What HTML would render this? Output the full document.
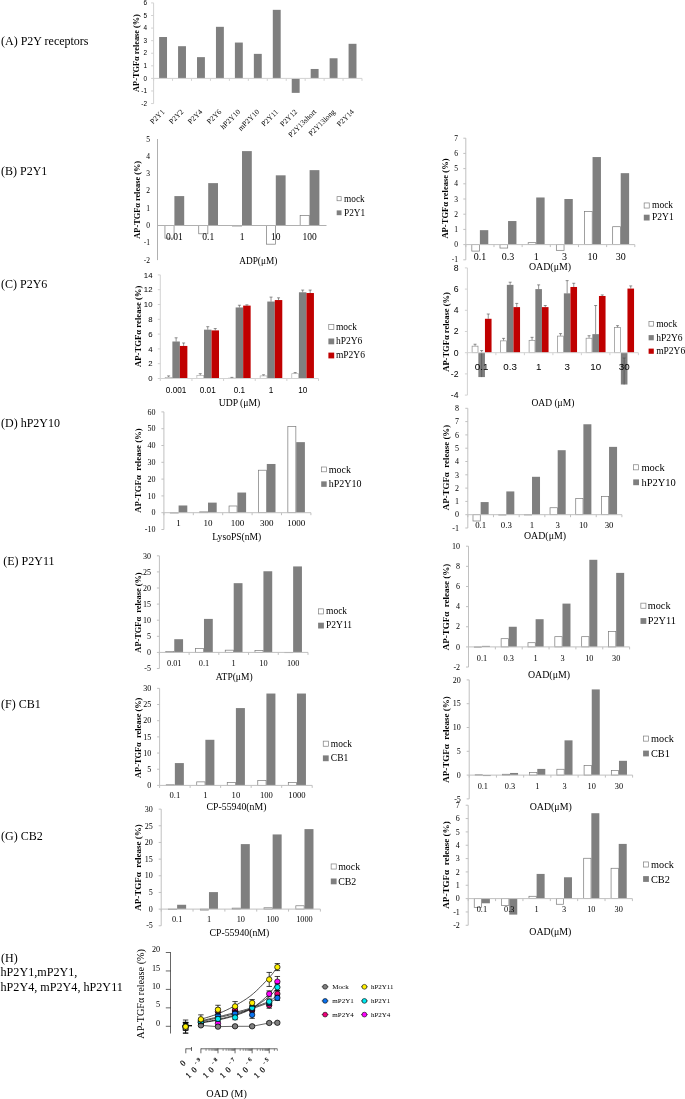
<!DOCTYPE html>
<html><head><meta charset="utf-8"><title>Figure</title>
<style>html,body{margin:0;padding:0;background:#fff;}svg{display:block;will-change:transform;}text{white-space:pre;}</style></head><body>
<svg width="685" height="1099" viewBox="0 0 685 1099">
<rect x="0" y="0" width="685" height="1099" fill="#fff"/>
<text x="1" y="45.2" font-family='"Liberation Serif", serif' font-size="12" text-anchor="start" font-weight="normal" fill="#000">(A) P2Y receptors</text>
<text x="1" y="175.2" font-family='"Liberation Serif", serif' font-size="12" text-anchor="start" font-weight="normal" fill="#000">(B) P2Y1</text>
<text x="1" y="288" font-family='"Liberation Serif", serif' font-size="12" text-anchor="start" font-weight="normal" fill="#000">(C) P2Y6</text>
<text x="1" y="427.3" font-family='"Liberation Serif", serif' font-size="12" text-anchor="start" font-weight="normal" fill="#000">(D) hP2Y10</text>
<text x="3.3" y="564.6" font-family='"Liberation Serif", serif' font-size="12" text-anchor="start" font-weight="normal" fill="#000">(E) P2Y11</text>
<text x="1" y="707.8" font-family='"Liberation Serif", serif' font-size="12" text-anchor="start" font-weight="normal" fill="#000">(F) CB1</text>
<text x="1" y="840.4" font-family='"Liberation Serif", serif' font-size="12" text-anchor="start" font-weight="normal" fill="#000">(G) CB2</text>
<text x="1" y="961.7" font-family='"Liberation Serif", serif' font-size="12" text-anchor="start" font-weight="normal" fill="#000">(H)</text>
<text x="0.5" y="976.3" font-family='"Liberation Serif", serif' font-size="12.15" text-anchor="start" font-weight="normal" fill="#000">hP2Y1,mP2Y1,</text>
<text x="0.5" y="991" font-family='"Liberation Serif", serif' font-size="12.15" text-anchor="start" font-weight="normal" fill="#000">hP2Y4, mP2Y4, hP2Y11</text>
<g>
<rect x="159.12" y="37.01" width="7.9" height="41.39" fill="#7f7f7f"/>
<rect x="178.07" y="46.2" width="7.9" height="32.2" fill="#7f7f7f"/>
<rect x="197.01" y="57.14" width="7.9" height="21.26" fill="#7f7f7f"/>
<rect x="215.96" y="26.82" width="7.9" height="51.58" fill="#7f7f7f"/>
<rect x="234.9" y="42.55" width="7.9" height="35.85" fill="#7f7f7f"/>
<rect x="253.85" y="53.87" width="7.9" height="24.53" fill="#7f7f7f"/>
<rect x="272.8" y="9.84" width="7.9" height="68.56" fill="#7f7f7f"/>
<rect x="291.74" y="78.4" width="7.9" height="14.47" fill="#7f7f7f"/>
<rect x="310.69" y="68.97" width="7.9" height="9.44" fill="#7f7f7f"/>
<rect x="329.63" y="58.27" width="7.9" height="20.13" fill="#7f7f7f"/>
<rect x="348.58" y="43.81" width="7.9" height="34.59" fill="#7f7f7f"/>
<line x1="153.6" y1="2.92" x2="153.6" y2="103.56" stroke="#d2d2d2" stroke-width="1"/>
<line x1="153.6" y1="78.4" x2="362" y2="78.4" stroke="#d2d2d2" stroke-width="1"/>
<line x1="151.1" y1="103.56" x2="153.6" y2="103.56" stroke="#d2d2d2" stroke-width="1"/>
<text x="147" y="105.74" font-family='"Liberation Sans", sans-serif' font-size="6.4" text-anchor="end" font-weight="normal" fill="#000">-2</text>
<line x1="151.1" y1="90.98" x2="153.6" y2="90.98" stroke="#d2d2d2" stroke-width="1"/>
<text x="147" y="93.16" font-family='"Liberation Sans", sans-serif' font-size="6.4" text-anchor="end" font-weight="normal" fill="#000">-1</text>
<line x1="151.1" y1="78.4" x2="153.6" y2="78.4" stroke="#d2d2d2" stroke-width="1"/>
<text x="147" y="80.58" font-family='"Liberation Sans", sans-serif' font-size="6.4" text-anchor="end" font-weight="normal" fill="#000">0</text>
<line x1="151.1" y1="65.82" x2="153.6" y2="65.82" stroke="#d2d2d2" stroke-width="1"/>
<text x="147" y="68" font-family='"Liberation Sans", sans-serif' font-size="6.4" text-anchor="end" font-weight="normal" fill="#000">1</text>
<line x1="151.1" y1="53.24" x2="153.6" y2="53.24" stroke="#d2d2d2" stroke-width="1"/>
<text x="147" y="55.42" font-family='"Liberation Sans", sans-serif' font-size="6.4" text-anchor="end" font-weight="normal" fill="#000">2</text>
<line x1="151.1" y1="40.66" x2="153.6" y2="40.66" stroke="#d2d2d2" stroke-width="1"/>
<text x="147" y="42.84" font-family='"Liberation Sans", sans-serif' font-size="6.4" text-anchor="end" font-weight="normal" fill="#000">3</text>
<line x1="151.1" y1="28.08" x2="153.6" y2="28.08" stroke="#d2d2d2" stroke-width="1"/>
<text x="147" y="30.26" font-family='"Liberation Sans", sans-serif' font-size="6.4" text-anchor="end" font-weight="normal" fill="#000">4</text>
<line x1="151.1" y1="15.5" x2="153.6" y2="15.5" stroke="#d2d2d2" stroke-width="1"/>
<text x="147" y="17.68" font-family='"Liberation Sans", sans-serif' font-size="6.4" text-anchor="end" font-weight="normal" fill="#000">5</text>
<line x1="151.1" y1="2.92" x2="153.6" y2="2.92" stroke="#d2d2d2" stroke-width="1"/>
<text x="147" y="5.1" font-family='"Liberation Sans", sans-serif' font-size="6.4" text-anchor="end" font-weight="normal" fill="#000">6</text>
<line x1="153.6" y1="78.4" x2="153.6" y2="80.9" stroke="#d2d2d2" stroke-width="1"/>
<line x1="172.55" y1="78.4" x2="172.55" y2="80.9" stroke="#d2d2d2" stroke-width="1"/>
<line x1="191.49" y1="78.4" x2="191.49" y2="80.9" stroke="#d2d2d2" stroke-width="1"/>
<line x1="210.44" y1="78.4" x2="210.44" y2="80.9" stroke="#d2d2d2" stroke-width="1"/>
<line x1="229.38" y1="78.4" x2="229.38" y2="80.9" stroke="#d2d2d2" stroke-width="1"/>
<line x1="248.33" y1="78.4" x2="248.33" y2="80.9" stroke="#d2d2d2" stroke-width="1"/>
<line x1="267.27" y1="78.4" x2="267.27" y2="80.9" stroke="#d2d2d2" stroke-width="1"/>
<line x1="286.22" y1="78.4" x2="286.22" y2="80.9" stroke="#d2d2d2" stroke-width="1"/>
<line x1="305.16" y1="78.4" x2="305.16" y2="80.9" stroke="#d2d2d2" stroke-width="1"/>
<line x1="324.11" y1="78.4" x2="324.11" y2="80.9" stroke="#d2d2d2" stroke-width="1"/>
<line x1="343.05" y1="78.4" x2="343.05" y2="80.9" stroke="#d2d2d2" stroke-width="1"/>
<line x1="362" y1="78.4" x2="362" y2="80.9" stroke="#d2d2d2" stroke-width="1"/>
<text x="165.07" y="112.3" font-family='"Liberation Serif", serif' font-size="7.5" text-anchor="end" font-weight="normal" fill="#000" transform="rotate(-45 165.07 112.3)">P2Y1</text>
<text x="184.02" y="112.3" font-family='"Liberation Serif", serif' font-size="7.5" text-anchor="end" font-weight="normal" fill="#000" transform="rotate(-45 184.02 112.3)">P2Y2</text>
<text x="202.96" y="112.3" font-family='"Liberation Serif", serif' font-size="7.5" text-anchor="end" font-weight="normal" fill="#000" transform="rotate(-45 202.96 112.3)">P2Y4</text>
<text x="221.91" y="112.3" font-family='"Liberation Serif", serif' font-size="7.5" text-anchor="end" font-weight="normal" fill="#000" transform="rotate(-45 221.91 112.3)">P2Y6</text>
<text x="240.85" y="112.3" font-family='"Liberation Serif", serif' font-size="7.5" text-anchor="end" font-weight="normal" fill="#000" transform="rotate(-45 240.85 112.3)">hP2Y10</text>
<text x="259.8" y="112.3" font-family='"Liberation Serif", serif' font-size="7.5" text-anchor="end" font-weight="normal" fill="#000" transform="rotate(-45 259.8 112.3)">mP2Y10</text>
<text x="278.75" y="112.3" font-family='"Liberation Serif", serif' font-size="7.5" text-anchor="end" font-weight="normal" fill="#000" transform="rotate(-45 278.75 112.3)">P2Y11</text>
<text x="297.69" y="112.3" font-family='"Liberation Serif", serif' font-size="7.5" text-anchor="end" font-weight="normal" fill="#000" transform="rotate(-45 297.69 112.3)">P2Y12</text>
<text x="316.64" y="112.3" font-family='"Liberation Serif", serif' font-size="7.5" text-anchor="end" font-weight="normal" fill="#000" transform="rotate(-45 316.64 112.3)">P2Y13short</text>
<text x="335.58" y="112.3" font-family='"Liberation Serif", serif' font-size="7.5" text-anchor="end" font-weight="normal" fill="#000" transform="rotate(-45 335.58 112.3)">P2Y13long</text>
<text x="354.53" y="112.3" font-family='"Liberation Serif", serif' font-size="7.5" text-anchor="end" font-weight="normal" fill="#000" transform="rotate(-45 354.53 112.3)">P2Y14</text>
<text x="139" y="53" font-family='"Liberation Serif", serif' font-size="8.3" text-anchor="middle" font-weight="bold" fill="#000" transform="rotate(-90 139 53)" xml:space="preserve">AP-TGFα release (%)</text>
</g>
<g>
<rect x="164.95" y="225.5" width="9.1" height="12.63" fill="#fff" stroke="#787878" stroke-width="0.7"/>
<rect x="174.4" y="196.09" width="9.8" height="29.41" fill="#7f7f7f"/>
<rect x="198.75" y="225.5" width="9.1" height="8.3" fill="#fff" stroke="#787878" stroke-width="0.7"/>
<rect x="208.2" y="183.12" width="9.8" height="42.39" fill="#7f7f7f"/>
<rect x="232.55" y="225.5" width="9.1" height="0.52" fill="#fff" stroke="#787878" stroke-width="0.7"/>
<rect x="242" y="151.11" width="9.8" height="74.39" fill="#7f7f7f"/>
<rect x="266.35" y="225.5" width="9.1" height="18.68" fill="#fff" stroke="#787878" stroke-width="0.7"/>
<rect x="275.8" y="175.33" width="9.8" height="50.17" fill="#7f7f7f"/>
<rect x="300.15" y="215.47" width="9.1" height="10.03" fill="#fff" stroke="#787878" stroke-width="0.7"/>
<rect x="309.6" y="170.14" width="9.8" height="55.36" fill="#7f7f7f"/>
<line x1="157.5" y1="139" x2="157.5" y2="260.1" stroke="#b0b0b0" stroke-width="1"/>
<line x1="157.5" y1="225.5" x2="326.5" y2="225.5" stroke="#b0b0b0" stroke-width="1"/>
<text x="150" y="262.65" font-family='"Liberation Serif", serif' font-size="7.5" text-anchor="end" font-weight="normal" fill="#000">-2</text>
<text x="150" y="245.35" font-family='"Liberation Serif", serif' font-size="7.5" text-anchor="end" font-weight="normal" fill="#000">-1</text>
<text x="150" y="228.05" font-family='"Liberation Serif", serif' font-size="7.5" text-anchor="end" font-weight="normal" fill="#000">0</text>
<text x="150" y="210.75" font-family='"Liberation Serif", serif' font-size="7.5" text-anchor="end" font-weight="normal" fill="#000">1</text>
<text x="150" y="193.45" font-family='"Liberation Serif", serif' font-size="7.5" text-anchor="end" font-weight="normal" fill="#000">2</text>
<text x="150" y="176.15" font-family='"Liberation Serif", serif' font-size="7.5" text-anchor="end" font-weight="normal" fill="#000">3</text>
<text x="150" y="158.85" font-family='"Liberation Serif", serif' font-size="7.5" text-anchor="end" font-weight="normal" fill="#000">4</text>
<text x="150" y="141.55" font-family='"Liberation Serif", serif' font-size="7.5" text-anchor="end" font-weight="normal" fill="#000">5</text>
<text x="174.4" y="239.7" font-family='"Liberation Serif", serif' font-size="9.5" text-anchor="middle" font-weight="normal" fill="#000">0.01</text>
<text x="208.2" y="239.7" font-family='"Liberation Serif", serif' font-size="9.5" text-anchor="middle" font-weight="normal" fill="#000">0.1</text>
<text x="242" y="239.7" font-family='"Liberation Serif", serif' font-size="9.5" text-anchor="middle" font-weight="normal" fill="#000">1</text>
<text x="275.8" y="239.7" font-family='"Liberation Serif", serif' font-size="9.5" text-anchor="middle" font-weight="normal" fill="#000">10</text>
<text x="309.6" y="239.7" font-family='"Liberation Serif", serif' font-size="9.5" text-anchor="middle" font-weight="normal" fill="#000">100</text>
<text x="140.5" y="199.8" font-family='"Liberation Serif", serif' font-size="8.3" text-anchor="middle" font-weight="bold" fill="#000" transform="rotate(-90 140.5 199.8)" xml:space="preserve">AP-TGFα release (%)</text>
<text x="258.3" y="263.5" font-family='"Liberation Serif", serif' font-size="9.3" text-anchor="middle" font-weight="normal" fill="#000">ADP(μM)</text>
<rect x="337.05" y="196.65" width="4.1" height="4.1" fill="#fff" stroke="#7f7f7f" stroke-width="0.7"/>
<text x="344" y="201.9" font-family='"Liberation Serif", serif' font-size="9.3" text-anchor="start" font-weight="normal" fill="#000">mock</text>
<rect x="336.7" y="210.4" width="4.8" height="4.8" fill="#7f7f7f"/>
<text x="344" y="216" font-family='"Liberation Serif", serif' font-size="9.3" text-anchor="start" font-weight="normal" fill="#000">P2Y1</text>
</g>
<g>
<rect x="471.83" y="244.6" width="7.7" height="6.49" fill="#fff" stroke="#787878" stroke-width="0.7"/>
<rect x="479.88" y="230.16" width="8.4" height="14.44" fill="#7f7f7f"/>
<rect x="500" y="244.6" width="7.7" height="3.45" fill="#fff" stroke="#787878" stroke-width="0.7"/>
<rect x="508.05" y="221.04" width="8.4" height="23.56" fill="#7f7f7f"/>
<rect x="528.17" y="242.67" width="7.7" height="1.93" fill="#fff" stroke="#787878" stroke-width="0.7"/>
<rect x="536.22" y="197.48" width="8.4" height="47.12" fill="#7f7f7f"/>
<rect x="556.33" y="244.6" width="7.7" height="5.73" fill="#fff" stroke="#787878" stroke-width="0.7"/>
<rect x="564.38" y="199" width="8.4" height="45.6" fill="#7f7f7f"/>
<rect x="584.5" y="211.51" width="7.7" height="33.09" fill="#fff" stroke="#787878" stroke-width="0.7"/>
<rect x="592.55" y="157.05" width="8.4" height="87.55" fill="#7f7f7f"/>
<rect x="612.67" y="226.71" width="7.7" height="17.89" fill="#fff" stroke="#787878" stroke-width="0.7"/>
<rect x="620.72" y="173.16" width="8.4" height="71.44" fill="#7f7f7f"/>
<line x1="465.8" y1="138.2" x2="465.8" y2="259.8" stroke="#c0c0c0" stroke-width="1"/>
<line x1="465.8" y1="244.6" x2="634.8" y2="244.6" stroke="#c0c0c0" stroke-width="1"/>
<line x1="463.3" y1="259.8" x2="465.8" y2="259.8" stroke="#c0c0c0" stroke-width="1"/>
<text x="458" y="262.35" font-family='"Liberation Serif", serif' font-size="7.5" text-anchor="end" font-weight="normal" fill="#000">-1</text>
<line x1="463.3" y1="244.6" x2="465.8" y2="244.6" stroke="#c0c0c0" stroke-width="1"/>
<text x="458" y="247.15" font-family='"Liberation Serif", serif' font-size="7.5" text-anchor="end" font-weight="normal" fill="#000">0</text>
<line x1="463.3" y1="229.4" x2="465.8" y2="229.4" stroke="#c0c0c0" stroke-width="1"/>
<text x="458" y="231.95" font-family='"Liberation Serif", serif' font-size="7.5" text-anchor="end" font-weight="normal" fill="#000">1</text>
<line x1="463.3" y1="214.2" x2="465.8" y2="214.2" stroke="#c0c0c0" stroke-width="1"/>
<text x="458" y="216.75" font-family='"Liberation Serif", serif' font-size="7.5" text-anchor="end" font-weight="normal" fill="#000">2</text>
<line x1="463.3" y1="199" x2="465.8" y2="199" stroke="#c0c0c0" stroke-width="1"/>
<text x="458" y="201.55" font-family='"Liberation Serif", serif' font-size="7.5" text-anchor="end" font-weight="normal" fill="#000">3</text>
<line x1="463.3" y1="183.8" x2="465.8" y2="183.8" stroke="#c0c0c0" stroke-width="1"/>
<text x="458" y="186.35" font-family='"Liberation Serif", serif' font-size="7.5" text-anchor="end" font-weight="normal" fill="#000">4</text>
<line x1="463.3" y1="168.6" x2="465.8" y2="168.6" stroke="#c0c0c0" stroke-width="1"/>
<text x="458" y="171.15" font-family='"Liberation Serif", serif' font-size="7.5" text-anchor="end" font-weight="normal" fill="#000">5</text>
<line x1="463.3" y1="153.4" x2="465.8" y2="153.4" stroke="#c0c0c0" stroke-width="1"/>
<text x="458" y="155.95" font-family='"Liberation Serif", serif' font-size="7.5" text-anchor="end" font-weight="normal" fill="#000">6</text>
<line x1="463.3" y1="138.2" x2="465.8" y2="138.2" stroke="#c0c0c0" stroke-width="1"/>
<text x="458" y="140.75" font-family='"Liberation Serif", serif' font-size="7.5" text-anchor="end" font-weight="normal" fill="#000">7</text>
<line x1="465.8" y1="244.6" x2="465.8" y2="247.1" stroke="#c0c0c0" stroke-width="1"/>
<line x1="493.97" y1="244.6" x2="493.97" y2="247.1" stroke="#c0c0c0" stroke-width="1"/>
<line x1="522.13" y1="244.6" x2="522.13" y2="247.1" stroke="#c0c0c0" stroke-width="1"/>
<line x1="550.3" y1="244.6" x2="550.3" y2="247.1" stroke="#c0c0c0" stroke-width="1"/>
<line x1="578.47" y1="244.6" x2="578.47" y2="247.1" stroke="#c0c0c0" stroke-width="1"/>
<line x1="606.63" y1="244.6" x2="606.63" y2="247.1" stroke="#c0c0c0" stroke-width="1"/>
<line x1="634.8" y1="244.6" x2="634.8" y2="247.1" stroke="#c0c0c0" stroke-width="1"/>
<text x="479.88" y="259.5" font-family='"Liberation Serif", serif' font-size="10" text-anchor="middle" font-weight="normal" fill="#000">0.1</text>
<text x="508.05" y="259.5" font-family='"Liberation Serif", serif' font-size="10" text-anchor="middle" font-weight="normal" fill="#000">0.3</text>
<text x="536.22" y="259.5" font-family='"Liberation Serif", serif' font-size="10" text-anchor="middle" font-weight="normal" fill="#000">1</text>
<text x="564.38" y="259.5" font-family='"Liberation Serif", serif' font-size="10" text-anchor="middle" font-weight="normal" fill="#000">3</text>
<text x="592.55" y="259.5" font-family='"Liberation Serif", serif' font-size="10" text-anchor="middle" font-weight="normal" fill="#000">10</text>
<text x="620.72" y="259.5" font-family='"Liberation Serif", serif' font-size="10" text-anchor="middle" font-weight="normal" fill="#000">30</text>
<text x="447.9" y="198.5" font-family='"Liberation Serif", serif' font-size="8.55" text-anchor="middle" font-weight="bold" fill="#000" transform="rotate(-90 447.9 198.5)" xml:space="preserve">AP-TGFα release (%)</text>
<text x="550" y="269.5" font-family='"Liberation Serif", serif' font-size="9.9" text-anchor="middle" font-weight="normal" fill="#000">OAD(μM)</text>
<rect x="644.15" y="202.95" width="5.1" height="5.1" fill="#fff" stroke="#7f7f7f" stroke-width="0.7"/>
<text x="652" y="208.35" font-family='"Liberation Serif", serif' font-size="9.5" text-anchor="start" font-weight="normal" fill="#000">mock</text>
<rect x="643.8" y="214.7" width="5.8" height="5.8" fill="#7f7f7f"/>
<text x="652" y="220.45" font-family='"Liberation Serif", serif' font-size="9.5" text-anchor="start" font-weight="normal" fill="#000">P2Y1</text>
</g>
<g>
<rect x="165.22" y="377.37" width="6.8" height="1.13" fill="#fff" stroke="#b0b0b0" stroke-width="0.7"/>
<line x1="168.62" y1="377.02" x2="168.62" y2="375.91" stroke="#4a4a4a" stroke-width="0.6"/>
<line x1="167.12" y1="375.91" x2="170.12" y2="375.91" stroke="#4a4a4a" stroke-width="0.6"/>
<rect x="172.37" y="341.5" width="7.5" height="37" fill="#7f7f7f"/>
<line x1="176.12" y1="341.5" x2="176.12" y2="337.8" stroke="#4a4a4a" stroke-width="0.6"/>
<line x1="174.62" y1="337.8" x2="177.62" y2="337.8" stroke="#4a4a4a" stroke-width="0.6"/>
<rect x="179.87" y="345.94" width="7.5" height="32.56" fill="#c00000"/>
<line x1="183.62" y1="345.94" x2="183.62" y2="342.98" stroke="#4a4a4a" stroke-width="0.6"/>
<line x1="182.12" y1="342.98" x2="185.12" y2="342.98" stroke="#4a4a4a" stroke-width="0.6"/>
<rect x="196.86" y="375.52" width="6.8" height="2.98" fill="#fff" stroke="#b0b0b0" stroke-width="0.7"/>
<line x1="200.26" y1="375.17" x2="200.26" y2="373.69" stroke="#4a4a4a" stroke-width="0.6"/>
<line x1="198.76" y1="373.69" x2="201.76" y2="373.69" stroke="#4a4a4a" stroke-width="0.6"/>
<rect x="204.01" y="329.66" width="7.5" height="48.84" fill="#7f7f7f"/>
<line x1="207.76" y1="329.66" x2="207.76" y2="326.7" stroke="#4a4a4a" stroke-width="0.6"/>
<line x1="206.26" y1="326.7" x2="209.26" y2="326.7" stroke="#4a4a4a" stroke-width="0.6"/>
<rect x="211.51" y="330.4" width="7.5" height="48.1" fill="#c00000"/>
<line x1="215.26" y1="330.4" x2="215.26" y2="328.55" stroke="#4a4a4a" stroke-width="0.6"/>
<line x1="213.76" y1="328.55" x2="216.76" y2="328.55" stroke="#4a4a4a" stroke-width="0.6"/>
<rect x="228.5" y="378.11" width="6.8" height="0.39" fill="#fff" stroke="#b0b0b0" stroke-width="0.7"/>
<line x1="231.9" y1="377.76" x2="231.9" y2="377.39" stroke="#4a4a4a" stroke-width="0.6"/>
<line x1="230.4" y1="377.39" x2="233.4" y2="377.39" stroke="#4a4a4a" stroke-width="0.6"/>
<rect x="235.65" y="307.46" width="7.5" height="71.04" fill="#7f7f7f"/>
<line x1="239.4" y1="307.46" x2="239.4" y2="305.24" stroke="#4a4a4a" stroke-width="0.6"/>
<line x1="237.9" y1="305.24" x2="240.9" y2="305.24" stroke="#4a4a4a" stroke-width="0.6"/>
<rect x="243.15" y="305.61" width="7.5" height="72.89" fill="#c00000"/>
<line x1="246.9" y1="305.61" x2="246.9" y2="304.87" stroke="#4a4a4a" stroke-width="0.6"/>
<line x1="245.4" y1="304.87" x2="248.4" y2="304.87" stroke="#4a4a4a" stroke-width="0.6"/>
<rect x="260.14" y="375.89" width="6.8" height="2.61" fill="#fff" stroke="#b0b0b0" stroke-width="0.7"/>
<line x1="263.54" y1="375.54" x2="263.54" y2="374.8" stroke="#4a4a4a" stroke-width="0.6"/>
<line x1="262.04" y1="374.8" x2="265.04" y2="374.8" stroke="#4a4a4a" stroke-width="0.6"/>
<rect x="267.29" y="301.54" width="7.5" height="76.96" fill="#7f7f7f"/>
<line x1="271.04" y1="301.54" x2="271.04" y2="297.1" stroke="#4a4a4a" stroke-width="0.6"/>
<line x1="269.54" y1="297.1" x2="272.54" y2="297.1" stroke="#4a4a4a" stroke-width="0.6"/>
<rect x="274.79" y="300.06" width="7.5" height="78.44" fill="#c00000"/>
<line x1="278.54" y1="300.06" x2="278.54" y2="297.84" stroke="#4a4a4a" stroke-width="0.6"/>
<line x1="277.04" y1="297.84" x2="280.04" y2="297.84" stroke="#4a4a4a" stroke-width="0.6"/>
<rect x="291.78" y="373.67" width="6.8" height="4.83" fill="#fff" stroke="#b0b0b0" stroke-width="0.7"/>
<line x1="295.18" y1="373.32" x2="295.18" y2="372.58" stroke="#4a4a4a" stroke-width="0.6"/>
<line x1="293.68" y1="372.58" x2="296.68" y2="372.58" stroke="#4a4a4a" stroke-width="0.6"/>
<rect x="298.93" y="292.29" width="7.5" height="86.21" fill="#7f7f7f"/>
<line x1="302.68" y1="292.29" x2="302.68" y2="290.07" stroke="#4a4a4a" stroke-width="0.6"/>
<line x1="301.18" y1="290.07" x2="304.18" y2="290.07" stroke="#4a4a4a" stroke-width="0.6"/>
<rect x="306.43" y="293.03" width="7.5" height="85.47" fill="#c00000"/>
<line x1="310.18" y1="293.03" x2="310.18" y2="290.07" stroke="#4a4a4a" stroke-width="0.6"/>
<line x1="308.68" y1="290.07" x2="311.68" y2="290.07" stroke="#4a4a4a" stroke-width="0.6"/>
<line x1="160.3" y1="274.9" x2="160.3" y2="378.5" stroke="#d2d2d2" stroke-width="1"/>
<line x1="160.3" y1="378.5" x2="318.5" y2="378.5" stroke="#d2d2d2" stroke-width="1"/>
<line x1="157.8" y1="378.5" x2="160.3" y2="378.5" stroke="#d2d2d2" stroke-width="1"/>
<text x="152.5" y="381.15" font-family='"Liberation Sans", sans-serif' font-size="7.8" text-anchor="end" font-weight="normal" fill="#000">0</text>
<line x1="157.8" y1="363.7" x2="160.3" y2="363.7" stroke="#d2d2d2" stroke-width="1"/>
<text x="152.5" y="366.35" font-family='"Liberation Sans", sans-serif' font-size="7.8" text-anchor="end" font-weight="normal" fill="#000">2</text>
<line x1="157.8" y1="348.9" x2="160.3" y2="348.9" stroke="#d2d2d2" stroke-width="1"/>
<text x="152.5" y="351.55" font-family='"Liberation Sans", sans-serif' font-size="7.8" text-anchor="end" font-weight="normal" fill="#000">4</text>
<line x1="157.8" y1="334.1" x2="160.3" y2="334.1" stroke="#d2d2d2" stroke-width="1"/>
<text x="152.5" y="336.75" font-family='"Liberation Sans", sans-serif' font-size="7.8" text-anchor="end" font-weight="normal" fill="#000">6</text>
<line x1="157.8" y1="319.3" x2="160.3" y2="319.3" stroke="#d2d2d2" stroke-width="1"/>
<text x="152.5" y="321.95" font-family='"Liberation Sans", sans-serif' font-size="7.8" text-anchor="end" font-weight="normal" fill="#000">8</text>
<line x1="157.8" y1="304.5" x2="160.3" y2="304.5" stroke="#d2d2d2" stroke-width="1"/>
<text x="152.5" y="307.15" font-family='"Liberation Sans", sans-serif' font-size="7.8" text-anchor="end" font-weight="normal" fill="#000">10</text>
<line x1="157.8" y1="289.7" x2="160.3" y2="289.7" stroke="#d2d2d2" stroke-width="1"/>
<text x="152.5" y="292.35" font-family='"Liberation Sans", sans-serif' font-size="7.8" text-anchor="end" font-weight="normal" fill="#000">12</text>
<line x1="157.8" y1="274.9" x2="160.3" y2="274.9" stroke="#d2d2d2" stroke-width="1"/>
<text x="152.5" y="277.55" font-family='"Liberation Sans", sans-serif' font-size="7.8" text-anchor="end" font-weight="normal" fill="#000">14</text>
<line x1="160.3" y1="378.5" x2="160.3" y2="381" stroke="#d2d2d2" stroke-width="1"/>
<line x1="191.94" y1="378.5" x2="191.94" y2="381" stroke="#d2d2d2" stroke-width="1"/>
<line x1="223.58" y1="378.5" x2="223.58" y2="381" stroke="#d2d2d2" stroke-width="1"/>
<line x1="255.22" y1="378.5" x2="255.22" y2="381" stroke="#d2d2d2" stroke-width="1"/>
<line x1="286.86" y1="378.5" x2="286.86" y2="381" stroke="#d2d2d2" stroke-width="1"/>
<line x1="318.5" y1="378.5" x2="318.5" y2="381" stroke="#d2d2d2" stroke-width="1"/>
<text x="176.12" y="392.7" font-family='"Liberation Sans", sans-serif' font-size="8.2" text-anchor="middle" font-weight="normal" fill="#000">0.001</text>
<text x="207.76" y="392.7" font-family='"Liberation Sans", sans-serif' font-size="8.2" text-anchor="middle" font-weight="normal" fill="#000">0.01</text>
<text x="239.4" y="392.7" font-family='"Liberation Sans", sans-serif' font-size="8.2" text-anchor="middle" font-weight="normal" fill="#000">0.1</text>
<text x="271.04" y="392.7" font-family='"Liberation Sans", sans-serif' font-size="8.2" text-anchor="middle" font-weight="normal" fill="#000">1</text>
<text x="302.68" y="392.7" font-family='"Liberation Sans", sans-serif' font-size="8.2" text-anchor="middle" font-weight="normal" fill="#000">10</text>
<text x="141" y="326.3" font-family='"Liberation Serif", serif' font-size="8.7" text-anchor="middle" font-weight="bold" fill="#000" transform="rotate(-90 141 326.3)" xml:space="preserve">AP-TGFα release (%)</text>
<text x="239.5" y="405.8" font-family='"Liberation Serif", serif' font-size="9.7" text-anchor="middle" font-weight="normal" fill="#000">UDP (μM)</text>
<rect x="328.75" y="324.35" width="5.1" height="5.1" fill="#fff" stroke="#7f7f7f" stroke-width="0.7"/>
<text x="335.9" y="329.75" font-family='"Liberation Serif", serif' font-size="9.5" text-anchor="start" font-weight="normal" fill="#000">mock</text>
<rect x="328.4" y="338.5" width="5.8" height="5.8" fill="#7f7f7f"/>
<text x="335.9" y="344.25" font-family='"Liberation Serif", serif' font-size="9.5" text-anchor="start" font-weight="normal" fill="#000">hP2Y6</text>
<rect x="328.4" y="352.6" width="5.8" height="5.8" fill="#c00000"/>
<text x="335.9" y="358.35" font-family='"Liberation Serif", serif' font-size="9.5" text-anchor="start" font-weight="normal" fill="#000">mP2Y6</text>
</g>
<g>
<rect x="472.1" y="346.16" width="5.9" height="6.54" fill="#fff" stroke="#8c8c8c" stroke-width="0.7"/>
<line x1="475.05" y1="345.81" x2="475.05" y2="344.22" stroke="#4a4a4a" stroke-width="0.6"/>
<line x1="473.55" y1="344.22" x2="476.55" y2="344.22" stroke="#4a4a4a" stroke-width="0.6"/>
<rect x="478.35" y="352.7" width="6.6" height="24.38" fill="#7f7f7f"/>
<line x1="481.65" y1="377.08" x2="481.65" y2="350.58" stroke="#4a4a4a" stroke-width="0.6"/>
<line x1="480.15" y1="350.58" x2="483.15" y2="350.58" stroke="#4a4a4a" stroke-width="0.6"/>
<rect x="484.95" y="318.78" width="6.6" height="33.92" fill="#c00000"/>
<line x1="488.25" y1="318.78" x2="488.25" y2="314.01" stroke="#4a4a4a" stroke-width="0.6"/>
<line x1="486.75" y1="314.01" x2="489.75" y2="314.01" stroke="#4a4a4a" stroke-width="0.6"/>
<rect x="500.6" y="340.86" width="5.9" height="11.84" fill="#fff" stroke="#8c8c8c" stroke-width="0.7"/>
<line x1="503.55" y1="340.51" x2="503.55" y2="338.39" stroke="#4a4a4a" stroke-width="0.6"/>
<line x1="502.05" y1="338.39" x2="505.05" y2="338.39" stroke="#4a4a4a" stroke-width="0.6"/>
<rect x="506.85" y="284.86" width="6.6" height="67.84" fill="#7f7f7f"/>
<line x1="510.15" y1="284.86" x2="510.15" y2="282.21" stroke="#4a4a4a" stroke-width="0.6"/>
<line x1="508.65" y1="282.21" x2="511.65" y2="282.21" stroke="#4a4a4a" stroke-width="0.6"/>
<rect x="513.45" y="307.12" width="6.6" height="45.58" fill="#c00000"/>
<line x1="516.75" y1="307.12" x2="516.75" y2="303.41" stroke="#4a4a4a" stroke-width="0.6"/>
<line x1="515.25" y1="303.41" x2="518.25" y2="303.41" stroke="#4a4a4a" stroke-width="0.6"/>
<rect x="529.1" y="340.33" width="5.9" height="12.37" fill="#fff" stroke="#8c8c8c" stroke-width="0.7"/>
<line x1="532.05" y1="339.98" x2="532.05" y2="337.33" stroke="#4a4a4a" stroke-width="0.6"/>
<line x1="530.55" y1="337.33" x2="533.55" y2="337.33" stroke="#4a4a4a" stroke-width="0.6"/>
<rect x="535.35" y="289.1" width="6.6" height="63.6" fill="#7f7f7f"/>
<line x1="538.65" y1="289.1" x2="538.65" y2="284.86" stroke="#4a4a4a" stroke-width="0.6"/>
<line x1="537.15" y1="284.86" x2="540.15" y2="284.86" stroke="#4a4a4a" stroke-width="0.6"/>
<rect x="541.95" y="307.12" width="6.6" height="45.58" fill="#c00000"/>
<line x1="545.25" y1="307.12" x2="545.25" y2="305.53" stroke="#4a4a4a" stroke-width="0.6"/>
<line x1="543.75" y1="305.53" x2="546.75" y2="305.53" stroke="#4a4a4a" stroke-width="0.6"/>
<rect x="557.6" y="336.09" width="5.9" height="16.61" fill="#fff" stroke="#8c8c8c" stroke-width="0.7"/>
<line x1="560.55" y1="335.74" x2="560.55" y2="333.62" stroke="#4a4a4a" stroke-width="0.6"/>
<line x1="559.05" y1="333.62" x2="562.05" y2="333.62" stroke="#4a4a4a" stroke-width="0.6"/>
<rect x="563.85" y="293.34" width="6.6" height="59.36" fill="#7f7f7f"/>
<line x1="567.15" y1="293.34" x2="567.15" y2="280.62" stroke="#4a4a4a" stroke-width="0.6"/>
<line x1="565.65" y1="280.62" x2="568.65" y2="280.62" stroke="#4a4a4a" stroke-width="0.6"/>
<rect x="570.45" y="286.98" width="6.6" height="65.72" fill="#c00000"/>
<line x1="573.75" y1="286.98" x2="573.75" y2="283.27" stroke="#4a4a4a" stroke-width="0.6"/>
<line x1="572.25" y1="283.27" x2="575.25" y2="283.27" stroke="#4a4a4a" stroke-width="0.6"/>
<rect x="586.1" y="338.21" width="5.9" height="14.49" fill="#fff" stroke="#8c8c8c" stroke-width="0.7"/>
<line x1="589.05" y1="337.86" x2="589.05" y2="335.74" stroke="#4a4a4a" stroke-width="0.6"/>
<line x1="587.55" y1="335.74" x2="590.55" y2="335.74" stroke="#4a4a4a" stroke-width="0.6"/>
<rect x="592.35" y="334.15" width="6.6" height="18.55" fill="#7f7f7f"/>
<line x1="595.65" y1="334.15" x2="595.65" y2="305.53" stroke="#4a4a4a" stroke-width="0.6"/>
<line x1="594.15" y1="305.53" x2="597.15" y2="305.53" stroke="#4a4a4a" stroke-width="0.6"/>
<rect x="598.95" y="295.99" width="6.6" height="56.71" fill="#c00000"/>
<line x1="602.25" y1="295.99" x2="602.25" y2="294.93" stroke="#4a4a4a" stroke-width="0.6"/>
<line x1="600.75" y1="294.93" x2="603.75" y2="294.93" stroke="#4a4a4a" stroke-width="0.6"/>
<rect x="614.6" y="327.61" width="5.9" height="25.09" fill="#fff" stroke="#8c8c8c" stroke-width="0.7"/>
<line x1="617.55" y1="327.26" x2="617.55" y2="325.67" stroke="#4a4a4a" stroke-width="0.6"/>
<line x1="616.05" y1="325.67" x2="619.05" y2="325.67" stroke="#4a4a4a" stroke-width="0.6"/>
<rect x="620.85" y="352.7" width="6.6" height="31.8" fill="#7f7f7f"/>
<line x1="624.15" y1="384.5" x2="624.15" y2="358" stroke="#4a4a4a" stroke-width="0.6"/>
<line x1="622.65" y1="358" x2="625.65" y2="358" stroke="#4a4a4a" stroke-width="0.6"/>
<rect x="627.45" y="288.57" width="6.6" height="64.13" fill="#c00000"/>
<line x1="630.75" y1="288.57" x2="630.75" y2="285.92" stroke="#4a4a4a" stroke-width="0.6"/>
<line x1="629.25" y1="285.92" x2="632.25" y2="285.92" stroke="#4a4a4a" stroke-width="0.6"/>
<line x1="467.4" y1="267.9" x2="467.4" y2="395.1" stroke="#d2d2d2" stroke-width="1"/>
<line x1="467.4" y1="352.7" x2="638.4" y2="352.7" stroke="#d2d2d2" stroke-width="1"/>
<line x1="464.9" y1="395.1" x2="467.4" y2="395.1" stroke="#d2d2d2" stroke-width="1"/>
<text x="458.6" y="398.06" font-family='"Liberation Sans", sans-serif' font-size="8.7" text-anchor="end" font-weight="normal" fill="#000">-4</text>
<line x1="464.9" y1="373.9" x2="467.4" y2="373.9" stroke="#d2d2d2" stroke-width="1"/>
<text x="458.6" y="376.86" font-family='"Liberation Sans", sans-serif' font-size="8.7" text-anchor="end" font-weight="normal" fill="#000">-2</text>
<line x1="464.9" y1="352.7" x2="467.4" y2="352.7" stroke="#d2d2d2" stroke-width="1"/>
<text x="458.6" y="355.66" font-family='"Liberation Sans", sans-serif' font-size="8.7" text-anchor="end" font-weight="normal" fill="#000">0</text>
<line x1="464.9" y1="331.5" x2="467.4" y2="331.5" stroke="#d2d2d2" stroke-width="1"/>
<text x="458.6" y="334.46" font-family='"Liberation Sans", sans-serif' font-size="8.7" text-anchor="end" font-weight="normal" fill="#000">2</text>
<line x1="464.9" y1="310.3" x2="467.4" y2="310.3" stroke="#d2d2d2" stroke-width="1"/>
<text x="458.6" y="313.26" font-family='"Liberation Sans", sans-serif' font-size="8.7" text-anchor="end" font-weight="normal" fill="#000">4</text>
<line x1="464.9" y1="289.1" x2="467.4" y2="289.1" stroke="#d2d2d2" stroke-width="1"/>
<text x="458.6" y="292.06" font-family='"Liberation Sans", sans-serif' font-size="8.7" text-anchor="end" font-weight="normal" fill="#000">6</text>
<line x1="464.9" y1="267.9" x2="467.4" y2="267.9" stroke="#d2d2d2" stroke-width="1"/>
<text x="458.6" y="270.86" font-family='"Liberation Sans", sans-serif' font-size="8.7" text-anchor="end" font-weight="normal" fill="#000">8</text>
<line x1="467.4" y1="352.7" x2="467.4" y2="355.2" stroke="#d2d2d2" stroke-width="1"/>
<line x1="495.9" y1="352.7" x2="495.9" y2="355.2" stroke="#d2d2d2" stroke-width="1"/>
<line x1="524.4" y1="352.7" x2="524.4" y2="355.2" stroke="#d2d2d2" stroke-width="1"/>
<line x1="552.9" y1="352.7" x2="552.9" y2="355.2" stroke="#d2d2d2" stroke-width="1"/>
<line x1="581.4" y1="352.7" x2="581.4" y2="355.2" stroke="#d2d2d2" stroke-width="1"/>
<line x1="609.9" y1="352.7" x2="609.9" y2="355.2" stroke="#d2d2d2" stroke-width="1"/>
<line x1="638.4" y1="352.7" x2="638.4" y2="355.2" stroke="#d2d2d2" stroke-width="1"/>
<text x="481.65" y="370.2" font-family='"Liberation Sans", sans-serif' font-size="9.8" text-anchor="middle" font-weight="normal" fill="#000">0.1</text>
<text x="510.15" y="370.2" font-family='"Liberation Sans", sans-serif' font-size="9.8" text-anchor="middle" font-weight="normal" fill="#000">0.3</text>
<text x="538.65" y="370.2" font-family='"Liberation Sans", sans-serif' font-size="9.8" text-anchor="middle" font-weight="normal" fill="#000">1</text>
<text x="567.15" y="370.2" font-family='"Liberation Sans", sans-serif' font-size="9.8" text-anchor="middle" font-weight="normal" fill="#000">3</text>
<text x="595.65" y="370.2" font-family='"Liberation Sans", sans-serif' font-size="9.8" text-anchor="middle" font-weight="normal" fill="#000">10</text>
<text x="624.15" y="370.2" font-family='"Liberation Sans", sans-serif' font-size="9.8" text-anchor="middle" font-weight="normal" fill="#000">30</text>
<text x="448.7" y="331.9" font-family='"Liberation Serif", serif' font-size="8.5" text-anchor="middle" font-weight="bold" fill="#000" transform="rotate(-90 448.7 331.9)" xml:space="preserve">AP-TGFα release (%)</text>
<text x="552.9" y="405.5" font-family='"Liberation Serif", serif' font-size="9.5" text-anchor="middle" font-weight="normal" fill="#000">OAD (μM)</text>
<rect x="648.95" y="321.65" width="4.5" height="4.5" fill="#fff" stroke="#7f7f7f" stroke-width="0.7"/>
<text x="656.2" y="326.75" font-family='"Liberation Serif", serif' font-size="9.5" text-anchor="start" font-weight="normal" fill="#000">mock</text>
<rect x="648.6" y="335.1" width="5.2" height="5.2" fill="#7f7f7f"/>
<text x="656.2" y="340.55" font-family='"Liberation Serif", serif' font-size="9.5" text-anchor="start" font-weight="normal" fill="#000">hP2Y6</text>
<rect x="648.6" y="348.6" width="5.2" height="5.2" fill="#c00000"/>
<text x="656.2" y="354.05" font-family='"Liberation Serif", serif' font-size="9.5" text-anchor="start" font-weight="normal" fill="#000">mP2Y6</text>
</g>
<g>
<rect x="170.25" y="512.7" width="8" height="0.3" fill="#fff" stroke="#787878" stroke-width="0.7"/>
<rect x="178.6" y="505.48" width="8.7" height="7.22" fill="#7f7f7f"/>
<rect x="199.65" y="511.87" width="8" height="0.83" fill="#fff" stroke="#787878" stroke-width="0.7"/>
<rect x="208" y="502.62" width="8.7" height="10.08" fill="#7f7f7f"/>
<rect x="229.05" y="505.99" width="8" height="6.71" fill="#fff" stroke="#787878" stroke-width="0.7"/>
<rect x="237.4" y="492.54" width="8.7" height="20.16" fill="#7f7f7f"/>
<rect x="258.45" y="470.21" width="8" height="42.49" fill="#fff" stroke="#787878" stroke-width="0.7"/>
<rect x="266.8" y="463.98" width="8.7" height="48.72" fill="#7f7f7f"/>
<rect x="287.85" y="426.53" width="8" height="86.17" fill="#fff" stroke="#787878" stroke-width="0.7"/>
<rect x="296.2" y="442.14" width="8.7" height="70.56" fill="#7f7f7f"/>
<line x1="163.9" y1="411.9" x2="163.9" y2="529.5" stroke="#c0c0c0" stroke-width="1"/>
<line x1="163.9" y1="512.7" x2="310.9" y2="512.7" stroke="#c0c0c0" stroke-width="1"/>
<line x1="161.4" y1="529.5" x2="163.9" y2="529.5" stroke="#c0c0c0" stroke-width="1"/>
<text x="155.5" y="532.22" font-family='"Liberation Serif", serif' font-size="8" text-anchor="end" font-weight="normal" fill="#000">-10</text>
<line x1="161.4" y1="512.7" x2="163.9" y2="512.7" stroke="#c0c0c0" stroke-width="1"/>
<text x="155.5" y="515.42" font-family='"Liberation Serif", serif' font-size="8" text-anchor="end" font-weight="normal" fill="#000">0</text>
<line x1="161.4" y1="495.9" x2="163.9" y2="495.9" stroke="#c0c0c0" stroke-width="1"/>
<text x="155.5" y="498.62" font-family='"Liberation Serif", serif' font-size="8" text-anchor="end" font-weight="normal" fill="#000">10</text>
<line x1="161.4" y1="479.1" x2="163.9" y2="479.1" stroke="#c0c0c0" stroke-width="1"/>
<text x="155.5" y="481.82" font-family='"Liberation Serif", serif' font-size="8" text-anchor="end" font-weight="normal" fill="#000">20</text>
<line x1="161.4" y1="462.3" x2="163.9" y2="462.3" stroke="#c0c0c0" stroke-width="1"/>
<text x="155.5" y="465.02" font-family='"Liberation Serif", serif' font-size="8" text-anchor="end" font-weight="normal" fill="#000">30</text>
<line x1="161.4" y1="445.5" x2="163.9" y2="445.5" stroke="#c0c0c0" stroke-width="1"/>
<text x="155.5" y="448.22" font-family='"Liberation Serif", serif' font-size="8" text-anchor="end" font-weight="normal" fill="#000">40</text>
<line x1="161.4" y1="428.7" x2="163.9" y2="428.7" stroke="#c0c0c0" stroke-width="1"/>
<text x="155.5" y="431.42" font-family='"Liberation Serif", serif' font-size="8" text-anchor="end" font-weight="normal" fill="#000">50</text>
<line x1="161.4" y1="411.9" x2="163.9" y2="411.9" stroke="#c0c0c0" stroke-width="1"/>
<text x="155.5" y="414.62" font-family='"Liberation Serif", serif' font-size="8" text-anchor="end" font-weight="normal" fill="#000">60</text>
<line x1="163.9" y1="512.7" x2="163.9" y2="515.2" stroke="#c0c0c0" stroke-width="1"/>
<line x1="193.3" y1="512.7" x2="193.3" y2="515.2" stroke="#c0c0c0" stroke-width="1"/>
<line x1="222.7" y1="512.7" x2="222.7" y2="515.2" stroke="#c0c0c0" stroke-width="1"/>
<line x1="252.1" y1="512.7" x2="252.1" y2="515.2" stroke="#c0c0c0" stroke-width="1"/>
<line x1="281.5" y1="512.7" x2="281.5" y2="515.2" stroke="#c0c0c0" stroke-width="1"/>
<line x1="310.9" y1="512.7" x2="310.9" y2="515.2" stroke="#c0c0c0" stroke-width="1"/>
<text x="178.6" y="526.3" font-family='"Liberation Serif", serif' font-size="9" text-anchor="middle" font-weight="normal" fill="#000">1</text>
<text x="208" y="526.3" font-family='"Liberation Serif", serif' font-size="9" text-anchor="middle" font-weight="normal" fill="#000">10</text>
<text x="237.4" y="526.3" font-family='"Liberation Serif", serif' font-size="9" text-anchor="middle" font-weight="normal" fill="#000">100</text>
<text x="266.8" y="526.3" font-family='"Liberation Serif", serif' font-size="9" text-anchor="middle" font-weight="normal" fill="#000">300</text>
<text x="296.2" y="526.3" font-family='"Liberation Serif", serif' font-size="9" text-anchor="middle" font-weight="normal" fill="#000">1000</text>
<text x="141.2" y="470.5" font-family='"Liberation Serif", serif' font-size="8.8" text-anchor="middle" font-weight="bold" fill="#000" transform="rotate(-90 141.2 470.5)" xml:space="preserve">AP-TGFα  release (%)</text>
<text x="236.8" y="539.6" font-family='"Liberation Serif", serif' font-size="9.6" text-anchor="middle" font-weight="normal" fill="#000">LysoPS(nM)</text>
<rect x="321.55" y="467" width="4.8" height="4.8" fill="#fff" stroke="#7f7f7f" stroke-width="0.7"/>
<text x="328.8" y="472.7" font-family='"Liberation Serif", serif' font-size="10" text-anchor="start" font-weight="normal" fill="#000">mock</text>
<rect x="321.2" y="481.35" width="5.5" height="5.5" fill="#7f7f7f"/>
<text x="328.8" y="487.4" font-family='"Liberation Serif", serif' font-size="10" text-anchor="start" font-weight="normal" fill="#000">hP2Y10</text>
</g>
<g>
<rect x="472.99" y="514.7" width="7.3" height="6.3" fill="#fff" stroke="#787878" stroke-width="0.7"/>
<rect x="480.64" y="502.07" width="8" height="12.63" fill="#7f7f7f"/>
<rect x="498.68" y="514.7" width="7.3" height="0.32" fill="#fff" stroke="#787878" stroke-width="0.7"/>
<rect x="506.32" y="491.43" width="8" height="23.28" fill="#7f7f7f"/>
<rect x="524.36" y="514.65" width="7.3" height="0.3" fill="#fff" stroke="#787878" stroke-width="0.7"/>
<rect x="532.01" y="476.8" width="8" height="37.91" fill="#7f7f7f"/>
<rect x="550.04" y="507.74" width="7.3" height="6.97" fill="#fff" stroke="#787878" stroke-width="0.7"/>
<rect x="557.69" y="450.2" width="8" height="64.5" fill="#7f7f7f"/>
<rect x="575.73" y="498.43" width="7.3" height="16.27" fill="#fff" stroke="#787878" stroke-width="0.7"/>
<rect x="583.38" y="424.26" width="8" height="90.44" fill="#7f7f7f"/>
<rect x="601.41" y="496.43" width="7.3" height="18.27" fill="#fff" stroke="#787878" stroke-width="0.7"/>
<rect x="609.06" y="446.87" width="8" height="67.83" fill="#7f7f7f"/>
<line x1="467.8" y1="408.3" x2="467.8" y2="528" stroke="#c0c0c0" stroke-width="1"/>
<line x1="467.8" y1="514.7" x2="621.9" y2="514.7" stroke="#c0c0c0" stroke-width="1"/>
<line x1="465.3" y1="528" x2="467.8" y2="528" stroke="#c0c0c0" stroke-width="1"/>
<text x="459" y="530.72" font-family='"Liberation Serif", serif' font-size="8" text-anchor="end" font-weight="normal" fill="#000">-1</text>
<line x1="465.3" y1="514.7" x2="467.8" y2="514.7" stroke="#c0c0c0" stroke-width="1"/>
<text x="459" y="517.42" font-family='"Liberation Serif", serif' font-size="8" text-anchor="end" font-weight="normal" fill="#000">0</text>
<line x1="465.3" y1="501.4" x2="467.8" y2="501.4" stroke="#c0c0c0" stroke-width="1"/>
<text x="459" y="504.12" font-family='"Liberation Serif", serif' font-size="8" text-anchor="end" font-weight="normal" fill="#000">1</text>
<line x1="465.3" y1="488.1" x2="467.8" y2="488.1" stroke="#c0c0c0" stroke-width="1"/>
<text x="459" y="490.82" font-family='"Liberation Serif", serif' font-size="8" text-anchor="end" font-weight="normal" fill="#000">2</text>
<line x1="465.3" y1="474.8" x2="467.8" y2="474.8" stroke="#c0c0c0" stroke-width="1"/>
<text x="459" y="477.52" font-family='"Liberation Serif", serif' font-size="8" text-anchor="end" font-weight="normal" fill="#000">3</text>
<line x1="465.3" y1="461.5" x2="467.8" y2="461.5" stroke="#c0c0c0" stroke-width="1"/>
<text x="459" y="464.22" font-family='"Liberation Serif", serif' font-size="8" text-anchor="end" font-weight="normal" fill="#000">4</text>
<line x1="465.3" y1="448.2" x2="467.8" y2="448.2" stroke="#c0c0c0" stroke-width="1"/>
<text x="459" y="450.92" font-family='"Liberation Serif", serif' font-size="8" text-anchor="end" font-weight="normal" fill="#000">5</text>
<line x1="465.3" y1="434.9" x2="467.8" y2="434.9" stroke="#c0c0c0" stroke-width="1"/>
<text x="459" y="437.62" font-family='"Liberation Serif", serif' font-size="8" text-anchor="end" font-weight="normal" fill="#000">6</text>
<line x1="465.3" y1="421.6" x2="467.8" y2="421.6" stroke="#c0c0c0" stroke-width="1"/>
<text x="459" y="424.32" font-family='"Liberation Serif", serif' font-size="8" text-anchor="end" font-weight="normal" fill="#000">7</text>
<line x1="465.3" y1="408.3" x2="467.8" y2="408.3" stroke="#c0c0c0" stroke-width="1"/>
<text x="459" y="411.02" font-family='"Liberation Serif", serif' font-size="8" text-anchor="end" font-weight="normal" fill="#000">8</text>
<line x1="467.8" y1="514.7" x2="467.8" y2="517.2" stroke="#c0c0c0" stroke-width="1"/>
<line x1="493.48" y1="514.7" x2="493.48" y2="517.2" stroke="#c0c0c0" stroke-width="1"/>
<line x1="519.17" y1="514.7" x2="519.17" y2="517.2" stroke="#c0c0c0" stroke-width="1"/>
<line x1="544.85" y1="514.7" x2="544.85" y2="517.2" stroke="#c0c0c0" stroke-width="1"/>
<line x1="570.53" y1="514.7" x2="570.53" y2="517.2" stroke="#c0c0c0" stroke-width="1"/>
<line x1="596.22" y1="514.7" x2="596.22" y2="517.2" stroke="#c0c0c0" stroke-width="1"/>
<line x1="621.9" y1="514.7" x2="621.9" y2="517.2" stroke="#c0c0c0" stroke-width="1"/>
<text x="480.64" y="528" font-family='"Liberation Serif", serif' font-size="8.8" text-anchor="middle" font-weight="normal" fill="#000">0.1</text>
<text x="506.32" y="528" font-family='"Liberation Serif", serif' font-size="8.8" text-anchor="middle" font-weight="normal" fill="#000">0.3</text>
<text x="532.01" y="528" font-family='"Liberation Serif", serif' font-size="8.8" text-anchor="middle" font-weight="normal" fill="#000">1</text>
<text x="557.69" y="528" font-family='"Liberation Serif", serif' font-size="8.8" text-anchor="middle" font-weight="normal" fill="#000">3</text>
<text x="583.38" y="528" font-family='"Liberation Serif", serif' font-size="8.8" text-anchor="middle" font-weight="normal" fill="#000">10</text>
<text x="609.06" y="528" font-family='"Liberation Serif", serif' font-size="8.8" text-anchor="middle" font-weight="normal" fill="#000">30</text>
<text x="448.7" y="467.5" font-family='"Liberation Serif", serif' font-size="8.9" text-anchor="middle" font-weight="bold" fill="#000" transform="rotate(-90 448.7 467.5)" xml:space="preserve">AP-TGFα  release (%)</text>
<text x="545" y="538.7" font-family='"Liberation Serif", serif' font-size="9.9" text-anchor="middle" font-weight="normal" fill="#000">OAD(μM)</text>
<rect x="633.55" y="464.75" width="5.1" height="5.1" fill="#fff" stroke="#7f7f7f" stroke-width="0.7"/>
<text x="641.4" y="470.6" font-family='"Liberation Serif", serif' font-size="10.5" text-anchor="start" font-weight="normal" fill="#000">mock</text>
<rect x="633.2" y="479.4" width="5.8" height="5.8" fill="#7f7f7f"/>
<text x="641.4" y="485.6" font-family='"Liberation Serif", serif' font-size="10.5" text-anchor="start" font-weight="normal" fill="#000">hP2Y10</text>
</g>
<g>
<rect x="165.81" y="651.46" width="8.1" height="0.94" fill="#fff" stroke="#787878" stroke-width="0.7"/>
<rect x="174.26" y="639.2" width="8.8" height="13.2" fill="#7f7f7f"/>
<rect x="195.53" y="648.56" width="8.1" height="3.84" fill="#fff" stroke="#787878" stroke-width="0.7"/>
<rect x="203.98" y="618.91" width="8.8" height="33.49" fill="#7f7f7f"/>
<rect x="225.25" y="650.17" width="8.1" height="2.23" fill="#fff" stroke="#787878" stroke-width="0.7"/>
<rect x="233.7" y="583.17" width="8.8" height="69.23" fill="#7f7f7f"/>
<rect x="254.97" y="650.5" width="8.1" height="1.9" fill="#fff" stroke="#787878" stroke-width="0.7"/>
<rect x="263.42" y="571.26" width="8.8" height="81.14" fill="#7f7f7f"/>
<rect x="284.69" y="652.4" width="8.1" height="0.3" fill="#fff" stroke="#787878" stroke-width="0.7"/>
<rect x="293.14" y="566.43" width="8.8" height="85.97" fill="#7f7f7f"/>
<line x1="159.4" y1="555.8" x2="159.4" y2="668.5" stroke="#c0c0c0" stroke-width="1"/>
<line x1="159.4" y1="652.4" x2="308" y2="652.4" stroke="#c0c0c0" stroke-width="1"/>
<line x1="156.9" y1="668.5" x2="159.4" y2="668.5" stroke="#c0c0c0" stroke-width="1"/>
<text x="151" y="671.22" font-family='"Liberation Serif", serif' font-size="8" text-anchor="end" font-weight="normal" fill="#000">-5</text>
<line x1="156.9" y1="652.4" x2="159.4" y2="652.4" stroke="#c0c0c0" stroke-width="1"/>
<text x="151" y="655.12" font-family='"Liberation Serif", serif' font-size="8" text-anchor="end" font-weight="normal" fill="#000">0</text>
<line x1="156.9" y1="636.3" x2="159.4" y2="636.3" stroke="#c0c0c0" stroke-width="1"/>
<text x="151" y="639.02" font-family='"Liberation Serif", serif' font-size="8" text-anchor="end" font-weight="normal" fill="#000">5</text>
<line x1="156.9" y1="620.2" x2="159.4" y2="620.2" stroke="#c0c0c0" stroke-width="1"/>
<text x="151" y="622.92" font-family='"Liberation Serif", serif' font-size="8" text-anchor="end" font-weight="normal" fill="#000">10</text>
<line x1="156.9" y1="604.1" x2="159.4" y2="604.1" stroke="#c0c0c0" stroke-width="1"/>
<text x="151" y="606.82" font-family='"Liberation Serif", serif' font-size="8" text-anchor="end" font-weight="normal" fill="#000">15</text>
<line x1="156.9" y1="588" x2="159.4" y2="588" stroke="#c0c0c0" stroke-width="1"/>
<text x="151" y="590.72" font-family='"Liberation Serif", serif' font-size="8" text-anchor="end" font-weight="normal" fill="#000">20</text>
<line x1="156.9" y1="571.9" x2="159.4" y2="571.9" stroke="#c0c0c0" stroke-width="1"/>
<text x="151" y="574.62" font-family='"Liberation Serif", serif' font-size="8" text-anchor="end" font-weight="normal" fill="#000">25</text>
<line x1="156.9" y1="555.8" x2="159.4" y2="555.8" stroke="#c0c0c0" stroke-width="1"/>
<text x="151" y="558.52" font-family='"Liberation Serif", serif' font-size="8" text-anchor="end" font-weight="normal" fill="#000">30</text>
<line x1="159.4" y1="652.4" x2="159.4" y2="654.9" stroke="#c0c0c0" stroke-width="1"/>
<line x1="189.12" y1="652.4" x2="189.12" y2="654.9" stroke="#c0c0c0" stroke-width="1"/>
<line x1="218.84" y1="652.4" x2="218.84" y2="654.9" stroke="#c0c0c0" stroke-width="1"/>
<line x1="248.56" y1="652.4" x2="248.56" y2="654.9" stroke="#c0c0c0" stroke-width="1"/>
<line x1="278.28" y1="652.4" x2="278.28" y2="654.9" stroke="#c0c0c0" stroke-width="1"/>
<line x1="308" y1="652.4" x2="308" y2="654.9" stroke="#c0c0c0" stroke-width="1"/>
<text x="174.26" y="665.7" font-family='"Liberation Serif", serif' font-size="8.3" text-anchor="middle" font-weight="normal" fill="#000">0.01</text>
<text x="203.98" y="665.7" font-family='"Liberation Serif", serif' font-size="8.3" text-anchor="middle" font-weight="normal" fill="#000">0.1</text>
<text x="233.7" y="665.7" font-family='"Liberation Serif", serif' font-size="8.3" text-anchor="middle" font-weight="normal" fill="#000">1</text>
<text x="263.42" y="665.7" font-family='"Liberation Serif", serif' font-size="8.3" text-anchor="middle" font-weight="normal" fill="#000">10</text>
<text x="293.14" y="665.7" font-family='"Liberation Serif", serif' font-size="8.3" text-anchor="middle" font-weight="normal" fill="#000">100</text>
<text x="141" y="612.5" font-family='"Liberation Serif", serif' font-size="8.35" text-anchor="middle" font-weight="bold" fill="#000" transform="rotate(-90 141 612.5)" xml:space="preserve">AP-TGFα  release (%)</text>
<text x="234.2" y="679.5" font-family='"Liberation Serif", serif' font-size="9.5" text-anchor="middle" font-weight="normal" fill="#000">ATP(μM)</text>
<rect x="318.45" y="608.85" width="5.1" height="5.1" fill="#fff" stroke="#7f7f7f" stroke-width="0.7"/>
<text x="326" y="614.25" font-family='"Liberation Serif", serif' font-size="9.5" text-anchor="start" font-weight="normal" fill="#000">mock</text>
<rect x="318.1" y="622.7" width="5.8" height="5.8" fill="#7f7f7f"/>
<text x="326" y="628.45" font-family='"Liberation Serif", serif' font-size="9.5" text-anchor="start" font-weight="normal" fill="#000">P2Y11</text>
</g>
<g>
<rect x="474.28" y="646.9" width="7.3" height="0.3" fill="#fff" stroke="#787878" stroke-width="0.7"/>
<rect x="481.93" y="645.89" width="8" height="1.01" fill="#7f7f7f"/>
<rect x="501.12" y="638.69" width="7.3" height="8.21" fill="#fff" stroke="#787878" stroke-width="0.7"/>
<rect x="508.77" y="626.76" width="8" height="20.14" fill="#7f7f7f"/>
<rect x="527.98" y="642.72" width="7.3" height="4.18" fill="#fff" stroke="#787878" stroke-width="0.7"/>
<rect x="535.62" y="619.21" width="8" height="27.69" fill="#7f7f7f"/>
<rect x="554.83" y="636.68" width="7.3" height="10.22" fill="#fff" stroke="#787878" stroke-width="0.7"/>
<rect x="562.48" y="603.6" width="8" height="43.3" fill="#7f7f7f"/>
<rect x="581.68" y="636.68" width="7.3" height="10.22" fill="#fff" stroke="#787878" stroke-width="0.7"/>
<rect x="589.33" y="559.79" width="8" height="87.11" fill="#7f7f7f"/>
<rect x="608.53" y="631.64" width="7.3" height="15.26" fill="#fff" stroke="#787878" stroke-width="0.7"/>
<rect x="616.18" y="572.89" width="8" height="74.01" fill="#7f7f7f"/>
<line x1="468.5" y1="546.2" x2="468.5" y2="667.04" stroke="#c0c0c0" stroke-width="1"/>
<line x1="468.5" y1="646.9" x2="629.6" y2="646.9" stroke="#c0c0c0" stroke-width="1"/>
<line x1="466" y1="667.04" x2="468.5" y2="667.04" stroke="#c0c0c0" stroke-width="1"/>
<text x="460.1" y="669.76" font-family='"Liberation Serif", serif' font-size="8" text-anchor="end" font-weight="normal" fill="#000">-2</text>
<line x1="466" y1="646.9" x2="468.5" y2="646.9" stroke="#c0c0c0" stroke-width="1"/>
<text x="460.1" y="649.62" font-family='"Liberation Serif", serif' font-size="8" text-anchor="end" font-weight="normal" fill="#000">0</text>
<line x1="466" y1="626.76" x2="468.5" y2="626.76" stroke="#c0c0c0" stroke-width="1"/>
<text x="460.1" y="629.48" font-family='"Liberation Serif", serif' font-size="8" text-anchor="end" font-weight="normal" fill="#000">2</text>
<line x1="466" y1="606.62" x2="468.5" y2="606.62" stroke="#c0c0c0" stroke-width="1"/>
<text x="460.1" y="609.34" font-family='"Liberation Serif", serif' font-size="8" text-anchor="end" font-weight="normal" fill="#000">4</text>
<line x1="466" y1="586.48" x2="468.5" y2="586.48" stroke="#c0c0c0" stroke-width="1"/>
<text x="460.1" y="589.2" font-family='"Liberation Serif", serif' font-size="8" text-anchor="end" font-weight="normal" fill="#000">6</text>
<line x1="466" y1="566.34" x2="468.5" y2="566.34" stroke="#c0c0c0" stroke-width="1"/>
<text x="460.1" y="569.06" font-family='"Liberation Serif", serif' font-size="8" text-anchor="end" font-weight="normal" fill="#000">8</text>
<line x1="466" y1="546.2" x2="468.5" y2="546.2" stroke="#c0c0c0" stroke-width="1"/>
<text x="460.1" y="548.92" font-family='"Liberation Serif", serif' font-size="8" text-anchor="end" font-weight="normal" fill="#000">10</text>
<line x1="468.5" y1="646.9" x2="468.5" y2="649.4" stroke="#c0c0c0" stroke-width="1"/>
<line x1="495.35" y1="646.9" x2="495.35" y2="649.4" stroke="#c0c0c0" stroke-width="1"/>
<line x1="522.2" y1="646.9" x2="522.2" y2="649.4" stroke="#c0c0c0" stroke-width="1"/>
<line x1="549.05" y1="646.9" x2="549.05" y2="649.4" stroke="#c0c0c0" stroke-width="1"/>
<line x1="575.9" y1="646.9" x2="575.9" y2="649.4" stroke="#c0c0c0" stroke-width="1"/>
<line x1="602.75" y1="646.9" x2="602.75" y2="649.4" stroke="#c0c0c0" stroke-width="1"/>
<line x1="629.6" y1="646.9" x2="629.6" y2="649.4" stroke="#c0c0c0" stroke-width="1"/>
<text x="481.93" y="660.6" font-family='"Liberation Serif", serif' font-size="8.3" text-anchor="middle" font-weight="normal" fill="#000">0.1</text>
<text x="508.77" y="660.6" font-family='"Liberation Serif", serif' font-size="8.3" text-anchor="middle" font-weight="normal" fill="#000">0.3</text>
<text x="535.62" y="660.6" font-family='"Liberation Serif", serif' font-size="8.3" text-anchor="middle" font-weight="normal" fill="#000">1</text>
<text x="562.48" y="660.6" font-family='"Liberation Serif", serif' font-size="8.3" text-anchor="middle" font-weight="normal" fill="#000">3</text>
<text x="589.33" y="660.6" font-family='"Liberation Serif", serif' font-size="8.3" text-anchor="middle" font-weight="normal" fill="#000">10</text>
<text x="616.18" y="660.6" font-family='"Liberation Serif", serif' font-size="8.3" text-anchor="middle" font-weight="normal" fill="#000">30</text>
<text x="448.9" y="607" font-family='"Liberation Serif", serif' font-size="9" text-anchor="middle" font-weight="bold" fill="#000" transform="rotate(-90 448.9 607)" xml:space="preserve">AP-TGFα  release (%)</text>
<text x="549" y="677.7" font-family='"Liberation Serif", serif' font-size="9.9" text-anchor="middle" font-weight="normal" fill="#000">OAD(μM)</text>
<rect x="640.85" y="603.15" width="5.1" height="5.1" fill="#fff" stroke="#7f7f7f" stroke-width="0.7"/>
<text x="647.7" y="608.6" font-family='"Liberation Serif", serif' font-size="10.3" text-anchor="start" font-weight="normal" fill="#000">mock</text>
<rect x="640.5" y="618.1" width="5.8" height="5.8" fill="#7f7f7f"/>
<text x="647.7" y="623.9" font-family='"Liberation Serif", serif' font-size="10.3" text-anchor="start" font-weight="normal" fill="#000">P2Y11</text>
</g>
<g>
<rect x="166.21" y="784.78" width="8.3" height="0.62" fill="#fff" stroke="#787878" stroke-width="0.7"/>
<rect x="174.86" y="763.08" width="9" height="22.32" fill="#7f7f7f"/>
<rect x="196.73" y="781.87" width="8.3" height="3.53" fill="#fff" stroke="#787878" stroke-width="0.7"/>
<rect x="205.38" y="739.79" width="9" height="45.61" fill="#7f7f7f"/>
<rect x="227.25" y="782.51" width="8.3" height="2.88" fill="#fff" stroke="#787878" stroke-width="0.7"/>
<rect x="235.9" y="708.08" width="9" height="77.32" fill="#7f7f7f"/>
<rect x="257.77" y="780.57" width="8.3" height="4.83" fill="#fff" stroke="#787878" stroke-width="0.7"/>
<rect x="266.42" y="693.53" width="9" height="91.87" fill="#7f7f7f"/>
<rect x="288.29" y="782.51" width="8.3" height="2.88" fill="#fff" stroke="#787878" stroke-width="0.7"/>
<rect x="296.94" y="693.53" width="9" height="91.87" fill="#7f7f7f"/>
<line x1="159.6" y1="688.35" x2="159.6" y2="785.4" stroke="#c0c0c0" stroke-width="1"/>
<line x1="159.6" y1="785.4" x2="312.2" y2="785.4" stroke="#c0c0c0" stroke-width="1"/>
<line x1="157.1" y1="785.4" x2="159.6" y2="785.4" stroke="#c0c0c0" stroke-width="1"/>
<text x="151.2" y="788.12" font-family='"Liberation Serif", serif' font-size="8" text-anchor="end" font-weight="normal" fill="#000">0</text>
<line x1="157.1" y1="769.23" x2="159.6" y2="769.23" stroke="#c0c0c0" stroke-width="1"/>
<text x="151.2" y="771.95" font-family='"Liberation Serif", serif' font-size="8" text-anchor="end" font-weight="normal" fill="#000">5</text>
<line x1="157.1" y1="753.05" x2="159.6" y2="753.05" stroke="#c0c0c0" stroke-width="1"/>
<text x="151.2" y="755.77" font-family='"Liberation Serif", serif' font-size="8" text-anchor="end" font-weight="normal" fill="#000">10</text>
<line x1="157.1" y1="736.88" x2="159.6" y2="736.88" stroke="#c0c0c0" stroke-width="1"/>
<text x="151.2" y="739.6" font-family='"Liberation Serif", serif' font-size="8" text-anchor="end" font-weight="normal" fill="#000">15</text>
<line x1="157.1" y1="720.7" x2="159.6" y2="720.7" stroke="#c0c0c0" stroke-width="1"/>
<text x="151.2" y="723.42" font-family='"Liberation Serif", serif' font-size="8" text-anchor="end" font-weight="normal" fill="#000">20</text>
<line x1="157.1" y1="704.52" x2="159.6" y2="704.52" stroke="#c0c0c0" stroke-width="1"/>
<text x="151.2" y="707.25" font-family='"Liberation Serif", serif' font-size="8" text-anchor="end" font-weight="normal" fill="#000">25</text>
<line x1="157.1" y1="688.35" x2="159.6" y2="688.35" stroke="#c0c0c0" stroke-width="1"/>
<text x="151.2" y="691.07" font-family='"Liberation Serif", serif' font-size="8" text-anchor="end" font-weight="normal" fill="#000">30</text>
<line x1="159.6" y1="785.4" x2="159.6" y2="787.9" stroke="#c0c0c0" stroke-width="1"/>
<line x1="190.12" y1="785.4" x2="190.12" y2="787.9" stroke="#c0c0c0" stroke-width="1"/>
<line x1="220.64" y1="785.4" x2="220.64" y2="787.9" stroke="#c0c0c0" stroke-width="1"/>
<line x1="251.16" y1="785.4" x2="251.16" y2="787.9" stroke="#c0c0c0" stroke-width="1"/>
<line x1="281.68" y1="785.4" x2="281.68" y2="787.9" stroke="#c0c0c0" stroke-width="1"/>
<line x1="312.2" y1="785.4" x2="312.2" y2="787.9" stroke="#c0c0c0" stroke-width="1"/>
<text x="174.86" y="797.8" font-family='"Liberation Serif", serif' font-size="8.6" text-anchor="middle" font-weight="normal" fill="#000">0.1</text>
<text x="205.38" y="797.8" font-family='"Liberation Serif", serif' font-size="8.6" text-anchor="middle" font-weight="normal" fill="#000">1</text>
<text x="235.9" y="797.8" font-family='"Liberation Serif", serif' font-size="8.6" text-anchor="middle" font-weight="normal" fill="#000">10</text>
<text x="266.42" y="797.8" font-family='"Liberation Serif", serif' font-size="8.6" text-anchor="middle" font-weight="normal" fill="#000">100</text>
<text x="296.94" y="797.8" font-family='"Liberation Serif", serif' font-size="8.6" text-anchor="middle" font-weight="normal" fill="#000">1000</text>
<text x="141" y="737.8" font-family='"Liberation Serif", serif' font-size="8.35" text-anchor="middle" font-weight="bold" fill="#000" transform="rotate(-90 141 737.8)" xml:space="preserve">AP-TGFα  release (%)</text>
<text x="236.5" y="810.4" font-family='"Liberation Serif", serif' font-size="9.8" text-anchor="middle" font-weight="normal" fill="#000">CP-55940(nM)</text>
<rect x="323.25" y="741.15" width="5.1" height="5.1" fill="#fff" stroke="#7f7f7f" stroke-width="0.7"/>
<text x="330.8" y="746.55" font-family='"Liberation Serif", serif' font-size="9.5" text-anchor="start" font-weight="normal" fill="#000">mock</text>
<rect x="322.9" y="755.4" width="5.8" height="5.8" fill="#7f7f7f"/>
<text x="330.8" y="761.15" font-family='"Liberation Serif", serif' font-size="9.5" text-anchor="start" font-weight="normal" fill="#000">CB1</text>
</g>
<g>
<rect x="475.17" y="774.74" width="7.3" height="0.36" fill="#fff" stroke="#787878" stroke-width="0.7"/>
<rect x="482.82" y="775.1" width="8" height="0.95" fill="#7f7f7f"/>
<rect x="502.4" y="774.26" width="7.3" height="0.84" fill="#fff" stroke="#787878" stroke-width="0.7"/>
<rect x="510.05" y="772.96" width="8" height="2.14" fill="#7f7f7f"/>
<rect x="529.63" y="772.36" width="7.3" height="2.74" fill="#fff" stroke="#787878" stroke-width="0.7"/>
<rect x="537.28" y="768.91" width="8" height="6.19" fill="#7f7f7f"/>
<rect x="556.87" y="769.26" width="7.3" height="5.84" fill="#fff" stroke="#787878" stroke-width="0.7"/>
<rect x="564.52" y="740.35" width="8" height="34.75" fill="#7f7f7f"/>
<rect x="584.1" y="765.45" width="7.3" height="9.65" fill="#fff" stroke="#787878" stroke-width="0.7"/>
<rect x="591.75" y="689.42" width="8" height="85.68" fill="#7f7f7f"/>
<rect x="611.33" y="770.45" width="7.3" height="4.65" fill="#fff" stroke="#787878" stroke-width="0.7"/>
<rect x="618.98" y="760.82" width="8" height="14.28" fill="#7f7f7f"/>
<line x1="469.2" y1="679.9" x2="469.2" y2="798.9" stroke="#c0c0c0" stroke-width="1"/>
<line x1="469.2" y1="775.1" x2="632.6" y2="775.1" stroke="#c0c0c0" stroke-width="1"/>
<line x1="466.7" y1="798.9" x2="469.2" y2="798.9" stroke="#c0c0c0" stroke-width="1"/>
<text x="460.8" y="801.62" font-family='"Liberation Serif", serif' font-size="8" text-anchor="end" font-weight="normal" fill="#000">-5</text>
<line x1="466.7" y1="775.1" x2="469.2" y2="775.1" stroke="#c0c0c0" stroke-width="1"/>
<text x="460.8" y="777.82" font-family='"Liberation Serif", serif' font-size="8" text-anchor="end" font-weight="normal" fill="#000">0</text>
<line x1="466.7" y1="751.3" x2="469.2" y2="751.3" stroke="#c0c0c0" stroke-width="1"/>
<text x="460.8" y="754.02" font-family='"Liberation Serif", serif' font-size="8" text-anchor="end" font-weight="normal" fill="#000">5</text>
<line x1="466.7" y1="727.5" x2="469.2" y2="727.5" stroke="#c0c0c0" stroke-width="1"/>
<text x="460.8" y="730.22" font-family='"Liberation Serif", serif' font-size="8" text-anchor="end" font-weight="normal" fill="#000">10</text>
<line x1="466.7" y1="703.7" x2="469.2" y2="703.7" stroke="#c0c0c0" stroke-width="1"/>
<text x="460.8" y="706.42" font-family='"Liberation Serif", serif' font-size="8" text-anchor="end" font-weight="normal" fill="#000">15</text>
<line x1="466.7" y1="679.9" x2="469.2" y2="679.9" stroke="#c0c0c0" stroke-width="1"/>
<text x="460.8" y="682.62" font-family='"Liberation Serif", serif' font-size="8" text-anchor="end" font-weight="normal" fill="#000">20</text>
<line x1="469.2" y1="775.1" x2="469.2" y2="777.6" stroke="#c0c0c0" stroke-width="1"/>
<line x1="496.43" y1="775.1" x2="496.43" y2="777.6" stroke="#c0c0c0" stroke-width="1"/>
<line x1="523.67" y1="775.1" x2="523.67" y2="777.6" stroke="#c0c0c0" stroke-width="1"/>
<line x1="550.9" y1="775.1" x2="550.9" y2="777.6" stroke="#c0c0c0" stroke-width="1"/>
<line x1="578.13" y1="775.1" x2="578.13" y2="777.6" stroke="#c0c0c0" stroke-width="1"/>
<line x1="605.37" y1="775.1" x2="605.37" y2="777.6" stroke="#c0c0c0" stroke-width="1"/>
<line x1="632.6" y1="775.1" x2="632.6" y2="777.6" stroke="#c0c0c0" stroke-width="1"/>
<text x="482.82" y="788.6" font-family='"Liberation Serif", serif' font-size="8.3" text-anchor="middle" font-weight="normal" fill="#000">0.1</text>
<text x="510.05" y="788.6" font-family='"Liberation Serif", serif' font-size="8.3" text-anchor="middle" font-weight="normal" fill="#000">0.3</text>
<text x="537.28" y="788.6" font-family='"Liberation Serif", serif' font-size="8.3" text-anchor="middle" font-weight="normal" fill="#000">1</text>
<text x="564.52" y="788.6" font-family='"Liberation Serif", serif' font-size="8.3" text-anchor="middle" font-weight="normal" fill="#000">3</text>
<text x="591.75" y="788.6" font-family='"Liberation Serif", serif' font-size="8.3" text-anchor="middle" font-weight="normal" fill="#000">10</text>
<text x="618.98" y="788.6" font-family='"Liberation Serif", serif' font-size="8.3" text-anchor="middle" font-weight="normal" fill="#000">30</text>
<text x="448.9" y="739.5" font-family='"Liberation Serif", serif' font-size="9" text-anchor="middle" font-weight="bold" fill="#000" transform="rotate(-90 448.9 739.5)" xml:space="preserve">AP-TGFα  release (%)</text>
<text x="550.7" y="809.5" font-family='"Liberation Serif", serif' font-size="9.9" text-anchor="middle" font-weight="normal" fill="#000">OAD(μM)</text>
<rect x="643.45" y="736.05" width="5.1" height="5.1" fill="#fff" stroke="#7f7f7f" stroke-width="0.7"/>
<text x="651" y="742.2" font-family='"Liberation Serif", serif' font-size="10.3" text-anchor="start" font-weight="normal" fill="#000">mock</text>
<rect x="643.1" y="750.6" width="5.8" height="5.8" fill="#7f7f7f"/>
<text x="651" y="757.1" font-family='"Liberation Serif", serif' font-size="10.3" text-anchor="start" font-weight="normal" fill="#000">CB1</text>
</g>
<g>
<rect x="168.47" y="909.1" width="8.3" height="0.32" fill="#fff" stroke="#787878" stroke-width="0.7"/>
<rect x="177.12" y="904.77" width="9" height="4.33" fill="#7f7f7f"/>
<rect x="200.31" y="909.1" width="8.3" height="0.98" fill="#fff" stroke="#787878" stroke-width="0.7"/>
<rect x="208.96" y="892.1" width="9" height="17" fill="#7f7f7f"/>
<rect x="232.15" y="908.12" width="8.3" height="0.98" fill="#fff" stroke="#787878" stroke-width="0.7"/>
<rect x="240.8" y="844.11" width="9" height="64.99" fill="#7f7f7f"/>
<rect x="263.99" y="907.78" width="8.3" height="1.32" fill="#fff" stroke="#787878" stroke-width="0.7"/>
<rect x="272.64" y="834.44" width="9" height="74.66" fill="#7f7f7f"/>
<rect x="295.83" y="905.78" width="8.3" height="3.32" fill="#fff" stroke="#787878" stroke-width="0.7"/>
<rect x="304.48" y="829.11" width="9" height="79.99" fill="#7f7f7f"/>
<line x1="161.2" y1="809.11" x2="161.2" y2="925.76" stroke="#c0c0c0" stroke-width="1"/>
<line x1="161.2" y1="909.1" x2="320.4" y2="909.1" stroke="#c0c0c0" stroke-width="1"/>
<line x1="158.7" y1="925.76" x2="161.2" y2="925.76" stroke="#c0c0c0" stroke-width="1"/>
<text x="152.8" y="928.49" font-family='"Liberation Serif", serif' font-size="8" text-anchor="end" font-weight="normal" fill="#000">-5</text>
<line x1="158.7" y1="909.1" x2="161.2" y2="909.1" stroke="#c0c0c0" stroke-width="1"/>
<text x="152.8" y="911.82" font-family='"Liberation Serif", serif' font-size="8" text-anchor="end" font-weight="normal" fill="#000">0</text>
<line x1="158.7" y1="892.44" x2="161.2" y2="892.44" stroke="#c0c0c0" stroke-width="1"/>
<text x="152.8" y="895.16" font-family='"Liberation Serif", serif' font-size="8" text-anchor="end" font-weight="normal" fill="#000">5</text>
<line x1="158.7" y1="875.77" x2="161.2" y2="875.77" stroke="#c0c0c0" stroke-width="1"/>
<text x="152.8" y="878.49" font-family='"Liberation Serif", serif' font-size="8" text-anchor="end" font-weight="normal" fill="#000">10</text>
<line x1="158.7" y1="859.11" x2="161.2" y2="859.11" stroke="#c0c0c0" stroke-width="1"/>
<text x="152.8" y="861.83" font-family='"Liberation Serif", serif' font-size="8" text-anchor="end" font-weight="normal" fill="#000">15</text>
<line x1="158.7" y1="842.44" x2="161.2" y2="842.44" stroke="#c0c0c0" stroke-width="1"/>
<text x="152.8" y="845.16" font-family='"Liberation Serif", serif' font-size="8" text-anchor="end" font-weight="normal" fill="#000">20</text>
<line x1="158.7" y1="825.77" x2="161.2" y2="825.77" stroke="#c0c0c0" stroke-width="1"/>
<text x="152.8" y="828.5" font-family='"Liberation Serif", serif' font-size="8" text-anchor="end" font-weight="normal" fill="#000">25</text>
<line x1="158.7" y1="809.11" x2="161.2" y2="809.11" stroke="#c0c0c0" stroke-width="1"/>
<text x="152.8" y="811.83" font-family='"Liberation Serif", serif' font-size="8" text-anchor="end" font-weight="normal" fill="#000">30</text>
<line x1="161.2" y1="909.1" x2="161.2" y2="911.6" stroke="#c0c0c0" stroke-width="1"/>
<line x1="193.04" y1="909.1" x2="193.04" y2="911.6" stroke="#c0c0c0" stroke-width="1"/>
<line x1="224.88" y1="909.1" x2="224.88" y2="911.6" stroke="#c0c0c0" stroke-width="1"/>
<line x1="256.72" y1="909.1" x2="256.72" y2="911.6" stroke="#c0c0c0" stroke-width="1"/>
<line x1="288.56" y1="909.1" x2="288.56" y2="911.6" stroke="#c0c0c0" stroke-width="1"/>
<line x1="320.4" y1="909.1" x2="320.4" y2="911.6" stroke="#c0c0c0" stroke-width="1"/>
<text x="177.12" y="922" font-family='"Liberation Serif", serif' font-size="8.3" text-anchor="middle" font-weight="normal" fill="#000">0.1</text>
<text x="208.96" y="922" font-family='"Liberation Serif", serif' font-size="8.3" text-anchor="middle" font-weight="normal" fill="#000">1</text>
<text x="240.8" y="922" font-family='"Liberation Serif", serif' font-size="8.3" text-anchor="middle" font-weight="normal" fill="#000">10</text>
<text x="272.64" y="922" font-family='"Liberation Serif", serif' font-size="8.3" text-anchor="middle" font-weight="normal" fill="#000">100</text>
<text x="304.48" y="922" font-family='"Liberation Serif", serif' font-size="8.3" text-anchor="middle" font-weight="normal" fill="#000">1000</text>
<text x="141.3" y="867.5" font-family='"Liberation Serif", serif' font-size="9" text-anchor="middle" font-weight="bold" fill="#000" transform="rotate(-90 141.3 867.5)" xml:space="preserve">AP-TGFα  release (%)</text>
<text x="239.4" y="935.6" font-family='"Liberation Serif", serif' font-size="9.8" text-anchor="middle" font-weight="normal" fill="#000">CP-55940(nM)</text>
<rect x="331.15" y="863.95" width="5.1" height="5.1" fill="#fff" stroke="#7f7f7f" stroke-width="0.7"/>
<text x="338.2" y="869.8" font-family='"Liberation Serif", serif' font-size="9.9" text-anchor="start" font-weight="normal" fill="#000">mock</text>
<rect x="330.8" y="878.5" width="5.8" height="5.8" fill="#7f7f7f"/>
<text x="338.2" y="884.7" font-family='"Liberation Serif", serif' font-size="9.9" text-anchor="start" font-weight="normal" fill="#000">CB2</text>
</g>
<g>
<rect x="474.23" y="898.6" width="7.3" height="8.99" fill="#fff" stroke="#787878" stroke-width="0.7"/>
<rect x="481.88" y="898.6" width="8" height="4.67" fill="#7f7f7f"/>
<rect x="501.6" y="898.6" width="7.3" height="6.99" fill="#fff" stroke="#787878" stroke-width="0.7"/>
<rect x="509.25" y="898.6" width="8" height="16.01" fill="#7f7f7f"/>
<rect x="528.97" y="896.28" width="7.3" height="2.32" fill="#fff" stroke="#787878" stroke-width="0.7"/>
<rect x="536.62" y="873.92" width="8" height="24.68" fill="#7f7f7f"/>
<rect x="556.33" y="898.6" width="7.3" height="5.65" fill="#fff" stroke="#787878" stroke-width="0.7"/>
<rect x="563.98" y="877.26" width="8" height="21.34" fill="#7f7f7f"/>
<rect x="583.7" y="858.26" width="7.3" height="40.34" fill="#fff" stroke="#787878" stroke-width="0.7"/>
<rect x="591.35" y="813.22" width="8" height="85.38" fill="#7f7f7f"/>
<rect x="611.07" y="868.27" width="7.3" height="30.33" fill="#fff" stroke="#787878" stroke-width="0.7"/>
<rect x="618.72" y="843.91" width="8" height="54.69" fill="#7f7f7f"/>
<line x1="468.2" y1="805.22" x2="468.2" y2="925.28" stroke="#c0c0c0" stroke-width="1"/>
<line x1="468.2" y1="898.6" x2="632.4" y2="898.6" stroke="#c0c0c0" stroke-width="1"/>
<line x1="465.7" y1="925.28" x2="468.2" y2="925.28" stroke="#c0c0c0" stroke-width="1"/>
<text x="459.8" y="928" font-family='"Liberation Serif", serif' font-size="8" text-anchor="end" font-weight="normal" fill="#000">-2</text>
<line x1="465.7" y1="911.94" x2="468.2" y2="911.94" stroke="#c0c0c0" stroke-width="1"/>
<text x="459.8" y="914.66" font-family='"Liberation Serif", serif' font-size="8" text-anchor="end" font-weight="normal" fill="#000">-1</text>
<line x1="465.7" y1="898.6" x2="468.2" y2="898.6" stroke="#c0c0c0" stroke-width="1"/>
<text x="459.8" y="901.32" font-family='"Liberation Serif", serif' font-size="8" text-anchor="end" font-weight="normal" fill="#000">0</text>
<line x1="465.7" y1="885.26" x2="468.2" y2="885.26" stroke="#c0c0c0" stroke-width="1"/>
<text x="459.8" y="887.98" font-family='"Liberation Serif", serif' font-size="8" text-anchor="end" font-weight="normal" fill="#000">1</text>
<line x1="465.7" y1="871.92" x2="468.2" y2="871.92" stroke="#c0c0c0" stroke-width="1"/>
<text x="459.8" y="874.64" font-family='"Liberation Serif", serif' font-size="8" text-anchor="end" font-weight="normal" fill="#000">2</text>
<line x1="465.7" y1="858.58" x2="468.2" y2="858.58" stroke="#c0c0c0" stroke-width="1"/>
<text x="459.8" y="861.3" font-family='"Liberation Serif", serif' font-size="8" text-anchor="end" font-weight="normal" fill="#000">3</text>
<line x1="465.7" y1="845.24" x2="468.2" y2="845.24" stroke="#c0c0c0" stroke-width="1"/>
<text x="459.8" y="847.96" font-family='"Liberation Serif", serif' font-size="8" text-anchor="end" font-weight="normal" fill="#000">4</text>
<line x1="465.7" y1="831.9" x2="468.2" y2="831.9" stroke="#c0c0c0" stroke-width="1"/>
<text x="459.8" y="834.62" font-family='"Liberation Serif", serif' font-size="8" text-anchor="end" font-weight="normal" fill="#000">5</text>
<line x1="465.7" y1="818.56" x2="468.2" y2="818.56" stroke="#c0c0c0" stroke-width="1"/>
<text x="459.8" y="821.28" font-family='"Liberation Serif", serif' font-size="8" text-anchor="end" font-weight="normal" fill="#000">6</text>
<line x1="465.7" y1="805.22" x2="468.2" y2="805.22" stroke="#c0c0c0" stroke-width="1"/>
<text x="459.8" y="807.94" font-family='"Liberation Serif", serif' font-size="8" text-anchor="end" font-weight="normal" fill="#000">7</text>
<line x1="468.2" y1="898.6" x2="468.2" y2="901.1" stroke="#c0c0c0" stroke-width="1"/>
<line x1="495.57" y1="898.6" x2="495.57" y2="901.1" stroke="#c0c0c0" stroke-width="1"/>
<line x1="522.93" y1="898.6" x2="522.93" y2="901.1" stroke="#c0c0c0" stroke-width="1"/>
<line x1="550.3" y1="898.6" x2="550.3" y2="901.1" stroke="#c0c0c0" stroke-width="1"/>
<line x1="577.67" y1="898.6" x2="577.67" y2="901.1" stroke="#c0c0c0" stroke-width="1"/>
<line x1="605.03" y1="898.6" x2="605.03" y2="901.1" stroke="#c0c0c0" stroke-width="1"/>
<line x1="632.4" y1="898.6" x2="632.4" y2="901.1" stroke="#c0c0c0" stroke-width="1"/>
<text x="481.88" y="911.6" font-family='"Liberation Serif", serif' font-size="8.3" text-anchor="middle" font-weight="normal" fill="#000">0.1</text>
<text x="509.25" y="911.6" font-family='"Liberation Serif", serif' font-size="8.3" text-anchor="middle" font-weight="normal" fill="#000">0.3</text>
<text x="536.62" y="911.6" font-family='"Liberation Serif", serif' font-size="8.3" text-anchor="middle" font-weight="normal" fill="#000">1</text>
<text x="563.98" y="911.6" font-family='"Liberation Serif", serif' font-size="8.3" text-anchor="middle" font-weight="normal" fill="#000">3</text>
<text x="591.35" y="911.6" font-family='"Liberation Serif", serif' font-size="8.3" text-anchor="middle" font-weight="normal" fill="#000">10</text>
<text x="618.72" y="911.6" font-family='"Liberation Serif", serif' font-size="8.3" text-anchor="middle" font-weight="normal" fill="#000">30</text>
<text x="448.9" y="865" font-family='"Liberation Serif", serif' font-size="9.1" text-anchor="middle" font-weight="bold" fill="#000" transform="rotate(-90 448.9 865)" xml:space="preserve">AP-TGFα  release (%)</text>
<text x="550.3" y="935.3" font-family='"Liberation Serif", serif' font-size="9.9" text-anchor="middle" font-weight="normal" fill="#000">OAD(μM)</text>
<rect x="643.45" y="861.95" width="5.1" height="5.1" fill="#fff" stroke="#7f7f7f" stroke-width="0.7"/>
<text x="651" y="868.1" font-family='"Liberation Serif", serif' font-size="10.3" text-anchor="start" font-weight="normal" fill="#000">mock</text>
<rect x="643.1" y="876.1" width="5.8" height="5.8" fill="#7f7f7f"/>
<text x="651" y="882.6" font-family='"Liberation Serif", serif' font-size="10.3" text-anchor="start" font-weight="normal" fill="#000">CB2</text>
</g>
<g>
<line x1="170.5" y1="952.2" x2="170.5" y2="1033.5" stroke="#000" stroke-width="0.6"/>
<line x1="165.8" y1="1026.3" x2="170.5" y2="1026.3" stroke="#000" stroke-width="0.6"/>
<text x="160.2" y="1025.9" font-family='"Liberation Serif", serif' font-size="8.2" text-anchor="end" font-weight="normal" fill="#000">0</text>
<line x1="165.8" y1="1007.85" x2="170.5" y2="1007.85" stroke="#000" stroke-width="0.6"/>
<text x="160.2" y="1007.45" font-family='"Liberation Serif", serif' font-size="8.2" text-anchor="end" font-weight="normal" fill="#000">5</text>
<line x1="165.8" y1="989.4" x2="170.5" y2="989.4" stroke="#000" stroke-width="0.6"/>
<text x="160.2" y="989" font-family='"Liberation Serif", serif' font-size="8.2" text-anchor="end" font-weight="normal" fill="#000">10</text>
<line x1="165.8" y1="970.95" x2="170.5" y2="970.95" stroke="#000" stroke-width="0.6"/>
<text x="160.2" y="970.55" font-family='"Liberation Serif", serif' font-size="8.2" text-anchor="end" font-weight="normal" fill="#000">15</text>
<line x1="165.8" y1="952.5" x2="170.5" y2="952.5" stroke="#000" stroke-width="0.6"/>
<text x="160.2" y="952.1" font-family='"Liberation Serif", serif' font-size="8.2" text-anchor="end" font-weight="normal" fill="#000">20</text>
<text x="144.2" y="993.9" font-family='"Liberation Serif", serif' font-size="10.2" text-anchor="middle" font-weight="normal" fill="#000" transform="rotate(-90 144.2 993.9)">AP-TGFα release (%)</text>
<line x1="185.8" y1="1048.8" x2="191.5" y2="1048.8" stroke="#000" stroke-width="0.6"/>
<line x1="185.8" y1="1048.5" x2="185.8" y2="1053.3" stroke="#000" stroke-width="0.6"/>
<line x1="191.5" y1="1047" x2="191.5" y2="1051" stroke="#000" stroke-width="0.6"/>
<line x1="200.9" y1="1048.8" x2="277.37" y2="1048.8" stroke="#000" stroke-width="0.6"/>
<line x1="200.9" y1="1048.5" x2="200.9" y2="1053.3" stroke="#000" stroke-width="0.6"/>
<line x1="206.04" y1="1048.8" x2="206.04" y2="1051" stroke="#000" stroke-width="0.4"/>
<line x1="209.05" y1="1048.8" x2="209.05" y2="1051" stroke="#000" stroke-width="0.4"/>
<line x1="211.18" y1="1048.8" x2="211.18" y2="1051" stroke="#000" stroke-width="0.4"/>
<line x1="212.84" y1="1048.8" x2="212.84" y2="1051" stroke="#000" stroke-width="0.4"/>
<line x1="214.19" y1="1048.8" x2="214.19" y2="1051" stroke="#000" stroke-width="0.4"/>
<line x1="215.33" y1="1048.8" x2="215.33" y2="1051" stroke="#000" stroke-width="0.4"/>
<line x1="216.32" y1="1048.8" x2="216.32" y2="1051" stroke="#000" stroke-width="0.4"/>
<line x1="217.2" y1="1048.8" x2="217.2" y2="1051" stroke="#000" stroke-width="0.4"/>
<line x1="217.98" y1="1048.5" x2="217.98" y2="1053.3" stroke="#000" stroke-width="0.6"/>
<line x1="223.12" y1="1048.8" x2="223.12" y2="1051" stroke="#000" stroke-width="0.4"/>
<line x1="226.13" y1="1048.8" x2="226.13" y2="1051" stroke="#000" stroke-width="0.4"/>
<line x1="228.26" y1="1048.8" x2="228.26" y2="1051" stroke="#000" stroke-width="0.4"/>
<line x1="229.92" y1="1048.8" x2="229.92" y2="1051" stroke="#000" stroke-width="0.4"/>
<line x1="231.27" y1="1048.8" x2="231.27" y2="1051" stroke="#000" stroke-width="0.4"/>
<line x1="232.41" y1="1048.8" x2="232.41" y2="1051" stroke="#000" stroke-width="0.4"/>
<line x1="233.4" y1="1048.8" x2="233.4" y2="1051" stroke="#000" stroke-width="0.4"/>
<line x1="234.28" y1="1048.8" x2="234.28" y2="1051" stroke="#000" stroke-width="0.4"/>
<line x1="235.06" y1="1048.5" x2="235.06" y2="1053.3" stroke="#000" stroke-width="0.6"/>
<line x1="240.2" y1="1048.8" x2="240.2" y2="1051" stroke="#000" stroke-width="0.4"/>
<line x1="243.21" y1="1048.8" x2="243.21" y2="1051" stroke="#000" stroke-width="0.4"/>
<line x1="245.34" y1="1048.8" x2="245.34" y2="1051" stroke="#000" stroke-width="0.4"/>
<line x1="247" y1="1048.8" x2="247" y2="1051" stroke="#000" stroke-width="0.4"/>
<line x1="248.35" y1="1048.8" x2="248.35" y2="1051" stroke="#000" stroke-width="0.4"/>
<line x1="249.49" y1="1048.8" x2="249.49" y2="1051" stroke="#000" stroke-width="0.4"/>
<line x1="250.48" y1="1048.8" x2="250.48" y2="1051" stroke="#000" stroke-width="0.4"/>
<line x1="251.36" y1="1048.8" x2="251.36" y2="1051" stroke="#000" stroke-width="0.4"/>
<line x1="252.14" y1="1048.5" x2="252.14" y2="1053.3" stroke="#000" stroke-width="0.6"/>
<line x1="257.28" y1="1048.8" x2="257.28" y2="1051" stroke="#000" stroke-width="0.4"/>
<line x1="260.29" y1="1048.8" x2="260.29" y2="1051" stroke="#000" stroke-width="0.4"/>
<line x1="262.42" y1="1048.8" x2="262.42" y2="1051" stroke="#000" stroke-width="0.4"/>
<line x1="264.08" y1="1048.8" x2="264.08" y2="1051" stroke="#000" stroke-width="0.4"/>
<line x1="265.43" y1="1048.8" x2="265.43" y2="1051" stroke="#000" stroke-width="0.4"/>
<line x1="266.57" y1="1048.8" x2="266.57" y2="1051" stroke="#000" stroke-width="0.4"/>
<line x1="267.56" y1="1048.8" x2="267.56" y2="1051" stroke="#000" stroke-width="0.4"/>
<line x1="268.44" y1="1048.8" x2="268.44" y2="1051" stroke="#000" stroke-width="0.4"/>
<line x1="269.22" y1="1048.5" x2="269.22" y2="1053.3" stroke="#000" stroke-width="0.6"/>
<line x1="274.36" y1="1048.8" x2="274.36" y2="1051" stroke="#000" stroke-width="0.4"/>
<line x1="277.37" y1="1048.8" x2="277.37" y2="1051" stroke="#000" stroke-width="0.4"/>
<text transform="translate(183.2 1066.5) rotate(-45)" font-family='"Liberation Serif", serif' font-size="8.3" stroke="#000" stroke-width="0.2">0</text>
<text transform="translate(188.8 1078.8) rotate(-45)" font-family='"Liberation Serif", serif' font-size="8.3" letter-spacing="3.85" stroke="#000" stroke-width="0.2">10<tspan font-size="5.5" dx="-0.7" dy="-5" letter-spacing="1.9">-9</tspan></text>
<text transform="translate(205.88 1078.8) rotate(-45)" font-family='"Liberation Serif", serif' font-size="8.3" letter-spacing="3.85" stroke="#000" stroke-width="0.2">10<tspan font-size="5.5" dx="-0.7" dy="-5" letter-spacing="1.9">-8</tspan></text>
<text transform="translate(222.96 1078.8) rotate(-45)" font-family='"Liberation Serif", serif' font-size="8.3" letter-spacing="3.85" stroke="#000" stroke-width="0.2">10<tspan font-size="5.5" dx="-0.7" dy="-5" letter-spacing="1.9">-7</tspan></text>
<text transform="translate(240.04 1078.8) rotate(-45)" font-family='"Liberation Serif", serif' font-size="8.3" letter-spacing="3.85" stroke="#000" stroke-width="0.2">10<tspan font-size="5.5" dx="-0.7" dy="-5" letter-spacing="1.9">-6</tspan></text>
<text transform="translate(257.12 1078.8) rotate(-45)" font-family='"Liberation Serif", serif' font-size="8.3" letter-spacing="3.85" stroke="#000" stroke-width="0.2">10<tspan font-size="5.5" dx="-0.7" dy="-5" letter-spacing="1.9">-5</tspan></text>
<text x="226.6" y="1096.6" font-family='"Liberation Serif", serif' font-size="10.2" text-anchor="middle" font-weight="normal" fill="#000">OAD (M)</text>
<polyline points="200.9,1019.29 201.73,1019.03 202.76,1018.72 203.97,1018.35 205.33,1017.95 206.81,1017.51 208.37,1017.03 210,1016.52 211.65,1016 213.31,1015.45 214.94,1014.89 216.5,1014.32 217.98,1013.75 219.4,1013.18 220.83,1012.58 222.25,1011.98 223.67,1011.35 225.1,1010.7 226.52,1010.04 227.94,1009.36 229.37,1008.66 230.79,1007.93 232.21,1007.19 233.64,1006.42 235.06,1005.64 236.48,1004.84 237.91,1004.03 239.33,1003.21 240.75,1002.38 242.18,1001.53 243.6,1000.65 245.02,999.75 246.45,998.8 247.87,997.82 249.29,996.79 250.72,995.7 252.14,994.57 253.59,993.34 255.09,992 256.62,990.59 258.16,989.11 259.71,987.59 261.24,986.04 262.74,984.51 264.19,982.99 265.58,981.52 266.89,980.12 268.11,978.8 269.22,977.59 270.24,976.46 271.19,975.34 272.08,974.26 272.9,973.22 273.66,972.22 274.36,971.27 275,970.38 275.59,969.56 276.11,968.81 276.59,968.14 277,967.56 277.37,967.08" fill="none" stroke="#000" stroke-width="0.7"/>
<polyline points="200.9,1022.98 201.73,1022.84 202.76,1022.67 203.97,1022.48 205.33,1022.27 206.81,1022.03 208.37,1021.78 210,1021.51 211.65,1021.23 213.31,1020.94 214.94,1020.64 216.5,1020.33 217.98,1020.03 219.4,1019.72 220.83,1019.41 222.25,1019.09 223.67,1018.77 225.1,1018.44 226.52,1018.09 227.94,1017.73 229.37,1017.35 230.79,1016.95 232.21,1016.52 233.64,1016.08 235.06,1015.6 236.48,1015.11 237.91,1014.62 239.33,1014.13 240.75,1013.62 242.18,1013.09 243.6,1012.53 245.02,1011.94 246.45,1011.31 247.87,1010.63 249.29,1009.89 250.72,1009.09 252.14,1008.22 253.59,1007.26 255.09,1006.2 256.62,1005.05 258.16,1003.85 259.71,1002.59 261.24,1001.3 262.74,1000 264.19,998.69 265.58,997.41 266.89,996.16 268.11,994.96 269.22,993.83 270.24,992.72 271.19,991.57 272.08,990.42 272.9,989.26 273.66,988.13 274.36,987.02 275,985.97 275.59,984.99 276.11,984.08 276.59,983.27 277,982.58 277.37,982.02" fill="none" stroke="#000" stroke-width="0.7"/>
<polyline points="200.9,1022.61 201.73,1022.46 202.76,1022.29 203.97,1022.08 205.33,1021.85 206.81,1021.6 208.37,1021.33 210,1021.04 211.65,1020.74 213.31,1020.43 214.94,1020.12 216.5,1019.8 217.98,1019.47 219.4,1019.15 220.83,1018.82 222.25,1018.48 223.67,1018.13 225.1,1017.77 226.52,1017.4 227.94,1017.01 229.37,1016.62 230.79,1016.2 232.21,1015.77 233.64,1015.33 235.06,1014.86 236.48,1014.38 237.91,1013.9 239.33,1013.42 240.75,1012.92 242.18,1012.41 243.6,1011.87 245.02,1011.32 246.45,1010.73 247.87,1010.12 249.29,1009.46 250.72,1008.77 252.14,1008.03 253.59,1007.24 255.09,1006.37 256.62,1005.45 258.16,1004.48 259.71,1003.48 261.24,1002.46 262.74,1001.44 264.19,1000.42 265.58,999.41 266.89,998.43 268.11,997.49 269.22,996.6 270.24,995.72 271.19,994.82 272.08,993.92 272.9,993.01 273.66,992.13 274.36,991.27 275,990.45 275.59,989.68 276.11,988.98 276.59,988.35 277,987.81 277.37,987.37" fill="none" stroke="#000" stroke-width="0.7"/>
<polyline points="200.9,1020.76 201.73,1020.58 202.76,1020.35 203.97,1020.08 205.33,1019.78 206.81,1019.45 208.37,1019.1 210,1018.74 211.65,1018.37 213.31,1017.99 214.94,1017.61 216.5,1017.25 217.98,1016.89 219.4,1016.54 220.83,1016.19 222.25,1015.83 223.67,1015.47 225.1,1015.1 226.52,1014.73 227.94,1014.36 229.37,1013.99 230.79,1013.61 232.21,1013.23 233.64,1012.85 235.06,1012.46 236.48,1012.08 237.91,1011.7 239.33,1011.33 240.75,1010.95 242.18,1010.57 243.6,1010.19 245.02,1009.8 246.45,1009.4 247.87,1008.99 249.29,1008.57 250.72,1008.12 252.14,1007.67 253.59,1007.19 255.09,1006.69 256.62,1006.17 258.16,1005.64 259.71,1005.1 261.24,1004.55 262.74,1004 264.19,1003.44 265.58,1002.87 266.89,1002.31 268.11,1001.76 269.22,1001.21 270.24,1000.64 271.19,1000.03 272.08,999.4 272.9,998.76 273.66,998.12 274.36,997.48 275,996.87 275.59,996.29 276.11,995.76 276.59,995.29 277,994.89 277.37,994.57" fill="none" stroke="#000" stroke-width="0.7"/>
<polyline points="200.9,1021.69 201.73,1021.5 202.76,1021.27 203.97,1021 205.33,1020.7 206.81,1020.37 208.37,1020.02 210,1019.65 211.65,1019.28 213.31,1018.9 214.94,1018.52 216.5,1018.16 217.98,1017.81 219.4,1017.47 220.83,1017.14 222.25,1016.8 223.67,1016.45 225.1,1016.11 226.52,1015.76 227.94,1015.41 229.37,1015.05 230.79,1014.69 232.21,1014.32 233.64,1013.95 235.06,1013.57 236.48,1013.18 237.91,1012.79 239.33,1012.4 240.75,1012 242.18,1011.6 243.6,1011.19 245.02,1010.78 246.45,1010.36 247.87,1009.93 249.29,1009.49 250.72,1009.04 252.14,1008.59 253.59,1008.11 255.09,1007.62 256.62,1007.11 258.16,1006.59 259.71,1006.05 261.24,1005.52 262.74,1004.99 264.19,1004.46 265.58,1003.94 266.89,1003.44 268.11,1002.96 269.22,1002.5 270.24,1002.05 271.19,1001.59 272.08,1001.13 272.9,1000.68 273.66,1000.24 274.36,999.81 275,999.41 275.59,999.03 276.11,998.68 276.59,998.37 277,998.11 277.37,997.89" fill="none" stroke="#000" stroke-width="0.7"/>
<polyline points="200.9,1025.38 217.98,1026.67 235.06,1026.3 252.14,1026.3 269.22,1022.98 277.37,1022.79" fill="none" stroke="#000" stroke-width="0.6"/>
<line x1="185.6" y1="1022.61" x2="185.6" y2="1029.99" stroke="#000" stroke-width="0.75"/>
<line x1="182.9" y1="1022.61" x2="188.3" y2="1022.61" stroke="#000" stroke-width="0.75"/>
<line x1="182.9" y1="1029.99" x2="188.3" y2="1029.99" stroke="#000" stroke-width="0.75"/>
<line x1="200.9" y1="1020.76" x2="200.9" y2="1024.45" stroke="#000" stroke-width="0.75"/>
<line x1="198.2" y1="1020.76" x2="203.6" y2="1020.76" stroke="#000" stroke-width="0.75"/>
<line x1="198.2" y1="1024.45" x2="203.6" y2="1024.45" stroke="#000" stroke-width="0.75"/>
<line x1="217.98" y1="1021.13" x2="217.98" y2="1025.56" stroke="#000" stroke-width="0.75"/>
<line x1="215.28" y1="1021.13" x2="220.68" y2="1021.13" stroke="#000" stroke-width="0.75"/>
<line x1="215.28" y1="1025.56" x2="220.68" y2="1025.56" stroke="#000" stroke-width="0.75"/>
<line x1="235.06" y1="1008.59" x2="235.06" y2="1013.75" stroke="#000" stroke-width="0.75"/>
<line x1="232.36" y1="1008.59" x2="237.76" y2="1008.59" stroke="#000" stroke-width="0.75"/>
<line x1="232.36" y1="1013.75" x2="237.76" y2="1013.75" stroke="#000" stroke-width="0.75"/>
<line x1="252.14" y1="1005.64" x2="252.14" y2="1010.8" stroke="#000" stroke-width="0.75"/>
<line x1="249.44" y1="1005.64" x2="254.84" y2="1005.64" stroke="#000" stroke-width="0.75"/>
<line x1="249.44" y1="1010.8" x2="254.84" y2="1010.8" stroke="#000" stroke-width="0.75"/>
<line x1="269.22" y1="990.88" x2="269.22" y2="996.78" stroke="#000" stroke-width="0.75"/>
<line x1="266.52" y1="990.88" x2="271.92" y2="990.88" stroke="#000" stroke-width="0.75"/>
<line x1="266.52" y1="996.78" x2="271.92" y2="996.78" stroke="#000" stroke-width="0.75"/>
<line x1="277.37" y1="976.48" x2="277.37" y2="986.82" stroke="#000" stroke-width="0.75"/>
<line x1="274.67" y1="976.48" x2="280.07" y2="976.48" stroke="#000" stroke-width="0.75"/>
<line x1="274.67" y1="986.82" x2="280.07" y2="986.82" stroke="#000" stroke-width="0.75"/>
<circle cx="185.6" cy="1026.3" r="2.7" fill="#ff00ff" stroke="#000" stroke-width="0.7"/>
<circle cx="200.9" cy="1022.61" r="2.7" fill="#ff00ff" stroke="#000" stroke-width="0.7"/>
<circle cx="217.98" cy="1023.35" r="2.7" fill="#ff00ff" stroke="#000" stroke-width="0.7"/>
<circle cx="235.06" cy="1011.17" r="2.7" fill="#ff00ff" stroke="#000" stroke-width="0.7"/>
<circle cx="252.14" cy="1008.22" r="2.7" fill="#ff00ff" stroke="#000" stroke-width="0.7"/>
<circle cx="269.22" cy="993.83" r="2.7" fill="#ff00ff" stroke="#000" stroke-width="0.7"/>
<circle cx="277.37" cy="981.65" r="2.7" fill="#ff00ff" stroke="#000" stroke-width="0.7"/>
<line x1="185.6" y1="1022.24" x2="185.6" y2="1029.62" stroke="#000" stroke-width="0.75"/>
<line x1="182.9" y1="1022.24" x2="188.3" y2="1022.24" stroke="#000" stroke-width="0.75"/>
<line x1="182.9" y1="1029.62" x2="188.3" y2="1029.62" stroke="#000" stroke-width="0.75"/>
<line x1="200.9" y1="1018.55" x2="200.9" y2="1022.98" stroke="#000" stroke-width="0.75"/>
<line x1="198.2" y1="1018.55" x2="203.6" y2="1018.55" stroke="#000" stroke-width="0.75"/>
<line x1="198.2" y1="1022.98" x2="203.6" y2="1022.98" stroke="#000" stroke-width="0.75"/>
<line x1="217.98" y1="1008.22" x2="217.98" y2="1014.86" stroke="#000" stroke-width="0.75"/>
<line x1="215.28" y1="1008.22" x2="220.68" y2="1008.22" stroke="#000" stroke-width="0.75"/>
<line x1="215.28" y1="1014.86" x2="220.68" y2="1014.86" stroke="#000" stroke-width="0.75"/>
<line x1="235.06" y1="1007.48" x2="235.06" y2="1013.38" stroke="#000" stroke-width="0.75"/>
<line x1="232.36" y1="1007.48" x2="237.76" y2="1007.48" stroke="#000" stroke-width="0.75"/>
<line x1="232.36" y1="1013.38" x2="237.76" y2="1013.38" stroke="#000" stroke-width="0.75"/>
<line x1="252.14" y1="1007.48" x2="252.14" y2="1012.65" stroke="#000" stroke-width="0.75"/>
<line x1="249.44" y1="1007.48" x2="254.84" y2="1007.48" stroke="#000" stroke-width="0.75"/>
<line x1="249.44" y1="1012.65" x2="254.84" y2="1012.65" stroke="#000" stroke-width="0.75"/>
<line x1="269.22" y1="1002.31" x2="269.22" y2="1008.22" stroke="#000" stroke-width="0.75"/>
<line x1="266.52" y1="1002.31" x2="271.92" y2="1002.31" stroke="#000" stroke-width="0.75"/>
<line x1="266.52" y1="1008.22" x2="271.92" y2="1008.22" stroke="#000" stroke-width="0.75"/>
<line x1="277.37" y1="990.88" x2="277.37" y2="996.78" stroke="#000" stroke-width="0.75"/>
<line x1="274.67" y1="990.88" x2="280.07" y2="990.88" stroke="#000" stroke-width="0.75"/>
<line x1="274.67" y1="996.78" x2="280.07" y2="996.78" stroke="#000" stroke-width="0.75"/>
<circle cx="185.6" cy="1025.93" r="2.7" fill="#f0007a" stroke="#000" stroke-width="0.7"/>
<circle cx="200.9" cy="1020.76" r="2.7" fill="#f0007a" stroke="#000" stroke-width="0.7"/>
<circle cx="217.98" cy="1011.54" r="2.7" fill="#f0007a" stroke="#000" stroke-width="0.7"/>
<circle cx="235.06" cy="1010.43" r="2.7" fill="#f0007a" stroke="#000" stroke-width="0.7"/>
<circle cx="252.14" cy="1010.06" r="2.7" fill="#f0007a" stroke="#000" stroke-width="0.7"/>
<circle cx="269.22" cy="1005.27" r="2.7" fill="#f0007a" stroke="#000" stroke-width="0.7"/>
<circle cx="277.37" cy="993.83" r="2.7" fill="#f0007a" stroke="#000" stroke-width="0.7"/>
<line x1="185.6" y1="1022.61" x2="185.6" y2="1029.99" stroke="#000" stroke-width="0.75"/>
<line x1="182.9" y1="1022.61" x2="188.3" y2="1022.61" stroke="#000" stroke-width="0.75"/>
<line x1="182.9" y1="1029.99" x2="188.3" y2="1029.99" stroke="#000" stroke-width="0.75"/>
<line x1="200.9" y1="1019.29" x2="200.9" y2="1023.72" stroke="#000" stroke-width="0.75"/>
<line x1="198.2" y1="1019.29" x2="203.6" y2="1019.29" stroke="#000" stroke-width="0.75"/>
<line x1="198.2" y1="1023.72" x2="203.6" y2="1023.72" stroke="#000" stroke-width="0.75"/>
<line x1="217.98" y1="1012.65" x2="217.98" y2="1018.55" stroke="#000" stroke-width="0.75"/>
<line x1="215.28" y1="1012.65" x2="220.68" y2="1012.65" stroke="#000" stroke-width="0.75"/>
<line x1="215.28" y1="1018.55" x2="220.68" y2="1018.55" stroke="#000" stroke-width="0.75"/>
<line x1="235.06" y1="1010.8" x2="235.06" y2="1015.97" stroke="#000" stroke-width="0.75"/>
<line x1="232.36" y1="1010.8" x2="237.76" y2="1010.8" stroke="#000" stroke-width="0.75"/>
<line x1="232.36" y1="1015.97" x2="237.76" y2="1015.97" stroke="#000" stroke-width="0.75"/>
<line x1="252.14" y1="1011.36" x2="252.14" y2="1018.37" stroke="#000" stroke-width="0.75"/>
<line x1="249.44" y1="1011.36" x2="254.84" y2="1011.36" stroke="#000" stroke-width="0.75"/>
<line x1="249.44" y1="1018.37" x2="254.84" y2="1018.37" stroke="#000" stroke-width="0.75"/>
<line x1="269.22" y1="1000.47" x2="269.22" y2="1005.64" stroke="#000" stroke-width="0.75"/>
<line x1="266.52" y1="1000.47" x2="271.92" y2="1000.47" stroke="#000" stroke-width="0.75"/>
<line x1="266.52" y1="1005.64" x2="271.92" y2="1005.64" stroke="#000" stroke-width="0.75"/>
<line x1="277.37" y1="995.3" x2="277.37" y2="1000.47" stroke="#000" stroke-width="0.75"/>
<line x1="274.67" y1="995.3" x2="280.07" y2="995.3" stroke="#000" stroke-width="0.75"/>
<line x1="274.67" y1="1000.47" x2="280.07" y2="1000.47" stroke="#000" stroke-width="0.75"/>
<circle cx="185.6" cy="1026.3" r="2.7" fill="#0a73f0" stroke="#000" stroke-width="0.7"/>
<circle cx="200.9" cy="1021.5" r="2.7" fill="#0a73f0" stroke="#000" stroke-width="0.7"/>
<circle cx="217.98" cy="1015.6" r="2.7" fill="#0a73f0" stroke="#000" stroke-width="0.7"/>
<circle cx="235.06" cy="1013.38" r="2.7" fill="#0a73f0" stroke="#000" stroke-width="0.7"/>
<circle cx="252.14" cy="1014.86" r="2.7" fill="#0a73f0" stroke="#000" stroke-width="0.7"/>
<circle cx="269.22" cy="1003.05" r="2.7" fill="#0a73f0" stroke="#000" stroke-width="0.7"/>
<circle cx="277.37" cy="997.89" r="2.7" fill="#0a73f0" stroke="#000" stroke-width="0.7"/>
<line x1="185.6" y1="1022.61" x2="185.6" y2="1029.99" stroke="#000" stroke-width="0.75"/>
<line x1="182.9" y1="1022.61" x2="188.3" y2="1022.61" stroke="#000" stroke-width="0.75"/>
<line x1="182.9" y1="1029.99" x2="188.3" y2="1029.99" stroke="#000" stroke-width="0.75"/>
<line x1="200.9" y1="1020.76" x2="200.9" y2="1024.45" stroke="#000" stroke-width="0.75"/>
<line x1="198.2" y1="1020.76" x2="203.6" y2="1020.76" stroke="#000" stroke-width="0.75"/>
<line x1="198.2" y1="1024.45" x2="203.6" y2="1024.45" stroke="#000" stroke-width="0.75"/>
<line x1="217.98" y1="1016.71" x2="217.98" y2="1021.13" stroke="#000" stroke-width="0.75"/>
<line x1="215.28" y1="1016.71" x2="220.68" y2="1016.71" stroke="#000" stroke-width="0.75"/>
<line x1="215.28" y1="1021.13" x2="220.68" y2="1021.13" stroke="#000" stroke-width="0.75"/>
<line x1="235.06" y1="1015.23" x2="235.06" y2="1019.66" stroke="#000" stroke-width="0.75"/>
<line x1="232.36" y1="1015.23" x2="237.76" y2="1015.23" stroke="#000" stroke-width="0.75"/>
<line x1="232.36" y1="1019.66" x2="237.76" y2="1019.66" stroke="#000" stroke-width="0.75"/>
<line x1="252.14" y1="1005.27" x2="252.14" y2="1010.43" stroke="#000" stroke-width="0.75"/>
<line x1="249.44" y1="1005.27" x2="254.84" y2="1005.27" stroke="#000" stroke-width="0.75"/>
<line x1="249.44" y1="1010.43" x2="254.84" y2="1010.43" stroke="#000" stroke-width="0.75"/>
<line x1="269.22" y1="998.99" x2="269.22" y2="1004.16" stroke="#000" stroke-width="0.75"/>
<line x1="266.52" y1="998.99" x2="271.92" y2="998.99" stroke="#000" stroke-width="0.75"/>
<line x1="266.52" y1="1004.16" x2="271.92" y2="1004.16" stroke="#000" stroke-width="0.75"/>
<line x1="277.37" y1="983.86" x2="277.37" y2="990.51" stroke="#000" stroke-width="0.75"/>
<line x1="274.67" y1="983.86" x2="280.07" y2="983.86" stroke="#000" stroke-width="0.75"/>
<line x1="274.67" y1="990.51" x2="280.07" y2="990.51" stroke="#000" stroke-width="0.75"/>
<circle cx="185.6" cy="1026.3" r="2.7" fill="#00e8f0" stroke="#000" stroke-width="0.7"/>
<circle cx="200.9" cy="1022.61" r="2.7" fill="#00e8f0" stroke="#000" stroke-width="0.7"/>
<circle cx="217.98" cy="1018.92" r="2.7" fill="#00e8f0" stroke="#000" stroke-width="0.7"/>
<circle cx="235.06" cy="1017.44" r="2.7" fill="#00e8f0" stroke="#000" stroke-width="0.7"/>
<circle cx="252.14" cy="1007.85" r="2.7" fill="#00e8f0" stroke="#000" stroke-width="0.7"/>
<circle cx="269.22" cy="1001.58" r="2.7" fill="#00e8f0" stroke="#000" stroke-width="0.7"/>
<circle cx="277.37" cy="987.19" r="2.7" fill="#00e8f0" stroke="#000" stroke-width="0.7"/>
<line x1="185.6" y1="1023.35" x2="185.6" y2="1032.94" stroke="#000" stroke-width="0.75"/>
<line x1="182.9" y1="1023.35" x2="188.3" y2="1023.35" stroke="#000" stroke-width="0.75"/>
<line x1="182.9" y1="1032.94" x2="188.3" y2="1032.94" stroke="#000" stroke-width="0.75"/>
<line x1="200.9" y1="1024.27" x2="200.9" y2="1026.48" stroke="#000" stroke-width="0.75"/>
<line x1="198.2" y1="1024.27" x2="203.6" y2="1024.27" stroke="#000" stroke-width="0.75"/>
<line x1="198.2" y1="1026.48" x2="203.6" y2="1026.48" stroke="#000" stroke-width="0.75"/>
<line x1="217.98" y1="1025.56" x2="217.98" y2="1027.78" stroke="#000" stroke-width="0.75"/>
<line x1="215.28" y1="1025.56" x2="220.68" y2="1025.56" stroke="#000" stroke-width="0.75"/>
<line x1="215.28" y1="1027.78" x2="220.68" y2="1027.78" stroke="#000" stroke-width="0.75"/>
<line x1="235.06" y1="1025.19" x2="235.06" y2="1027.41" stroke="#000" stroke-width="0.75"/>
<line x1="232.36" y1="1025.19" x2="237.76" y2="1025.19" stroke="#000" stroke-width="0.75"/>
<line x1="232.36" y1="1027.41" x2="237.76" y2="1027.41" stroke="#000" stroke-width="0.75"/>
<line x1="252.14" y1="1025.19" x2="252.14" y2="1027.41" stroke="#000" stroke-width="0.75"/>
<line x1="249.44" y1="1025.19" x2="254.84" y2="1025.19" stroke="#000" stroke-width="0.75"/>
<line x1="249.44" y1="1027.41" x2="254.84" y2="1027.41" stroke="#000" stroke-width="0.75"/>
<line x1="269.22" y1="1021.87" x2="269.22" y2="1024.09" stroke="#000" stroke-width="0.75"/>
<line x1="266.52" y1="1021.87" x2="271.92" y2="1021.87" stroke="#000" stroke-width="0.75"/>
<line x1="266.52" y1="1024.09" x2="271.92" y2="1024.09" stroke="#000" stroke-width="0.75"/>
<line x1="277.37" y1="1021.69" x2="277.37" y2="1023.9" stroke="#000" stroke-width="0.75"/>
<line x1="274.67" y1="1021.69" x2="280.07" y2="1021.69" stroke="#000" stroke-width="0.75"/>
<line x1="274.67" y1="1023.9" x2="280.07" y2="1023.9" stroke="#000" stroke-width="0.75"/>
<circle cx="185.6" cy="1028.14" r="2.7" fill="#808080" stroke="#000" stroke-width="0.7"/>
<circle cx="200.9" cy="1025.38" r="2.7" fill="#808080" stroke="#000" stroke-width="0.7"/>
<circle cx="217.98" cy="1026.67" r="2.7" fill="#808080" stroke="#000" stroke-width="0.7"/>
<circle cx="235.06" cy="1026.3" r="2.7" fill="#808080" stroke="#000" stroke-width="0.7"/>
<circle cx="252.14" cy="1026.3" r="2.7" fill="#808080" stroke="#000" stroke-width="0.7"/>
<circle cx="269.22" cy="1022.98" r="2.7" fill="#808080" stroke="#000" stroke-width="0.7"/>
<circle cx="277.37" cy="1022.79" r="2.7" fill="#808080" stroke="#000" stroke-width="0.7"/>
<line x1="185.6" y1="1020.03" x2="185.6" y2="1033.31" stroke="#000" stroke-width="0.75"/>
<line x1="182.9" y1="1020.03" x2="188.3" y2="1020.03" stroke="#000" stroke-width="0.75"/>
<line x1="182.9" y1="1033.31" x2="188.3" y2="1033.31" stroke="#000" stroke-width="0.75"/>
<line x1="200.9" y1="1014.86" x2="200.9" y2="1023.72" stroke="#000" stroke-width="0.75"/>
<line x1="198.2" y1="1014.86" x2="203.6" y2="1014.86" stroke="#000" stroke-width="0.75"/>
<line x1="198.2" y1="1023.72" x2="203.6" y2="1023.72" stroke="#000" stroke-width="0.75"/>
<line x1="217.98" y1="1005.27" x2="217.98" y2="1014.12" stroke="#000" stroke-width="0.75"/>
<line x1="215.28" y1="1005.27" x2="220.68" y2="1005.27" stroke="#000" stroke-width="0.75"/>
<line x1="215.28" y1="1014.12" x2="220.68" y2="1014.12" stroke="#000" stroke-width="0.75"/>
<line x1="235.06" y1="1001.58" x2="235.06" y2="1011.17" stroke="#000" stroke-width="0.75"/>
<line x1="232.36" y1="1001.58" x2="237.76" y2="1001.58" stroke="#000" stroke-width="0.75"/>
<line x1="232.36" y1="1011.17" x2="237.76" y2="1011.17" stroke="#000" stroke-width="0.75"/>
<line x1="252.14" y1="999.55" x2="252.14" y2="1006.19" stroke="#000" stroke-width="0.75"/>
<line x1="249.44" y1="999.55" x2="254.84" y2="999.55" stroke="#000" stroke-width="0.75"/>
<line x1="249.44" y1="1006.19" x2="254.84" y2="1006.19" stroke="#000" stroke-width="0.75"/>
<line x1="269.22" y1="972.43" x2="269.22" y2="986.45" stroke="#000" stroke-width="0.75"/>
<line x1="266.52" y1="972.43" x2="271.92" y2="972.43" stroke="#000" stroke-width="0.75"/>
<line x1="266.52" y1="986.45" x2="271.92" y2="986.45" stroke="#000" stroke-width="0.75"/>
<line x1="277.37" y1="963.57" x2="277.37" y2="970.58" stroke="#000" stroke-width="0.75"/>
<line x1="274.67" y1="963.57" x2="280.07" y2="963.57" stroke="#000" stroke-width="0.75"/>
<line x1="274.67" y1="970.58" x2="280.07" y2="970.58" stroke="#000" stroke-width="0.75"/>
<circle cx="185.6" cy="1026.67" r="2.7" fill="#fff000" stroke="#000" stroke-width="0.7"/>
<circle cx="200.9" cy="1019.29" r="2.7" fill="#fff000" stroke="#000" stroke-width="0.7"/>
<circle cx="217.98" cy="1009.69" r="2.7" fill="#fff000" stroke="#000" stroke-width="0.7"/>
<circle cx="235.06" cy="1006.37" r="2.7" fill="#fff000" stroke="#000" stroke-width="0.7"/>
<circle cx="252.14" cy="1002.87" r="2.7" fill="#fff000" stroke="#000" stroke-width="0.7"/>
<circle cx="269.22" cy="979.44" r="2.7" fill="#fff000" stroke="#000" stroke-width="0.7"/>
<circle cx="277.37" cy="967.08" r="2.7" fill="#fff000" stroke="#000" stroke-width="0.7"/>
<line x1="188.3" y1="1025.7" x2="192" y2="1025.7" stroke="#000" stroke-width="1.3"/>
<line x1="321.7" y1="986.8" x2="328.5" y2="986.8" stroke="#000" stroke-width="0.6"/>
<circle cx="325.1" cy="986.8" r="2.4" fill="#808080" stroke="#000" stroke-width="0.6"/>
<text x="332.3" y="989.2" font-family='"Liberation Serif", serif' font-size="7" text-anchor="start" font-weight="normal" fill="#000">Mock</text>
<line x1="321.7" y1="1000.9" x2="328.5" y2="1000.9" stroke="#000" stroke-width="0.6"/>
<circle cx="325.1" cy="1000.9" r="2.4" fill="#0a73f0" stroke="#000" stroke-width="0.6"/>
<text x="332.3" y="1003.3" font-family='"Liberation Serif", serif' font-size="7" text-anchor="start" font-weight="normal" fill="#000">mP2Y1</text>
<line x1="321.7" y1="1014.6" x2="328.5" y2="1014.6" stroke="#000" stroke-width="0.6"/>
<circle cx="325.1" cy="1014.6" r="2.4" fill="#f0007a" stroke="#000" stroke-width="0.6"/>
<text x="332.3" y="1017" font-family='"Liberation Serif", serif' font-size="7" text-anchor="start" font-weight="normal" fill="#000">mP2Y4</text>
<line x1="361" y1="986.8" x2="367.8" y2="986.8" stroke="#000" stroke-width="0.6"/>
<circle cx="364.4" cy="986.8" r="2.4" fill="#fff000" stroke="#000" stroke-width="0.6"/>
<text x="370.9" y="989.2" font-family='"Liberation Serif", serif' font-size="7" text-anchor="start" font-weight="normal" fill="#000">hP2Y11</text>
<line x1="361" y1="1000.9" x2="367.8" y2="1000.9" stroke="#000" stroke-width="0.6"/>
<circle cx="364.4" cy="1000.9" r="2.4" fill="#00e8f0" stroke="#000" stroke-width="0.6"/>
<text x="370.9" y="1003.3" font-family='"Liberation Serif", serif' font-size="7" text-anchor="start" font-weight="normal" fill="#000">hP2Y1</text>
<line x1="361" y1="1014.6" x2="367.8" y2="1014.6" stroke="#000" stroke-width="0.6"/>
<circle cx="364.4" cy="1014.6" r="2.4" fill="#ff00ff" stroke="#000" stroke-width="0.6"/>
<text x="370.9" y="1017" font-family='"Liberation Serif", serif' font-size="7" text-anchor="start" font-weight="normal" fill="#000">hP2Y4</text>
</g>
</svg></body></html>
